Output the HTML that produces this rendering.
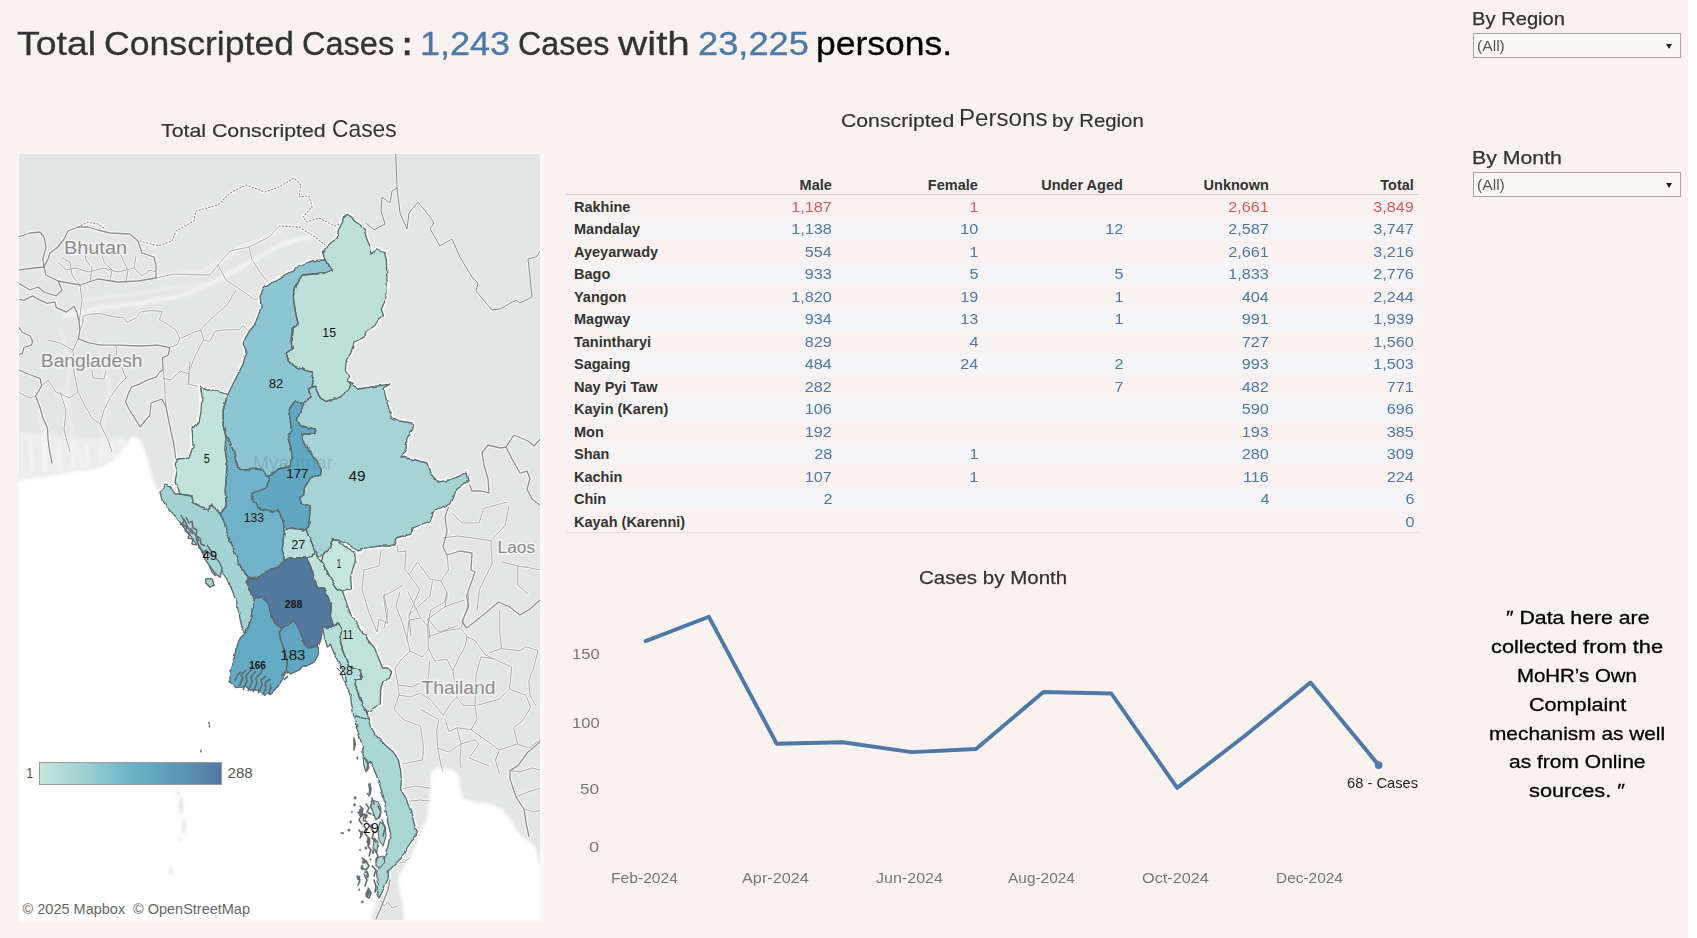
<!DOCTYPE html>
<html>
<head>
<meta charset="utf-8">
<title>Total Conscripted Cases</title>
<style>
html,body{margin:0;padding:0;}
body{width:1697px;height:938px;overflow:hidden;background:#ffffff;font-family:"Liberation Sans",sans-serif;position:relative;}
#bg{position:absolute;left:0;top:0;width:1688px;height:938px;background:#faf2f0;}
.t{position:absolute;white-space:nowrap;line-height:1;transform-origin:0 0;}
#map{position:absolute;left:18.5px;top:154px;width:521.5px;height:766.3px;background:#fff;overflow:hidden;box-shadow:2px 0 2px 1.5px rgba(253,250,250,.75),0 0 2px 1.5px rgba(253,250,250,.6);}
/* table */
.hl{position:absolute;left:566px;width:853px;height:1px;background:#cfcaca;}
.band{position:absolute;left:566px;width:853px;height:22.5px;background:linear-gradient(90deg,#f8f3f2 0,#f5f4f6 8%,#f5f4f6 100%);}
.rl{position:absolute;left:574px;font-size:14.5px;font-weight:bold;color:#333;white-space:nowrap;line-height:1;transform-origin:0 0;}
.ch{position:absolute;font-size:14.5px;font-weight:bold;color:#333;white-space:nowrap;line-height:1;text-align:right;transform-origin:100% 0;}
.n{position:absolute;font-size:15.5px;color:#4e79a7;white-space:nowrap;line-height:1;text-align:right;transform-origin:100% 0;transform:scaleX(1.045);}
.r{color:#e15759;}
/* filters */
.dd{position:absolute;left:1473px;width:206px;height:23px;border:1px solid #a9a4a2;background:#fbf8f6;}
.dd span{position:absolute;left:3px;top:4.5px;font-size:14.5px;color:#555;line-height:1;transform:scaleX(1.08);transform-origin:0 0;}
.dd i{position:absolute;right:8px;top:10px;width:0;height:0;border-left:3.5px solid transparent;border-right:3.5px solid transparent;border-top:5px solid #222;}
/* chart */
.ax{position:absolute;font-size:15px;color:#777;white-space:nowrap;line-height:1;}
</style>
</head>
<body>
<div id="bg"></div>
<div style="position:absolute;left:608px;top:596px;width:815px;height:305px;background:#f9f3f0"></div>

<div class="t" style="left:16.50px;top:26.54px;font-size:33.50px;color:#333;transform:scaleX(1.1176);-webkit-text-stroke:0.3px #333;">Total</div>
<div class="t" style="left:104.30px;top:26.54px;font-size:33.50px;color:#333;transform:scaleX(1.0637);-webkit-text-stroke:0.3px #333;">Conscripted</div>
<div class="t" style="left:302.30px;top:26.54px;font-size:33.50px;color:#333;transform:scaleX(0.9708);-webkit-text-stroke:0.3px #333;">Cases</div>
<div class="t" style="left:402.00px;top:26.54px;font-size:33.50px;color:#333;font-weight:bold;transform:scaleX(0.9267);-webkit-text-stroke:0.4px #333;">:</div>
<div class="t" style="left:420.00px;top:26.54px;font-size:33.50px;color:#4e79a7;transform:scaleX(1.0737);-webkit-text-stroke:0.35px #4e79a7;">1,243</div>
<div class="t" style="left:518.30px;top:26.54px;font-size:33.50px;color:#333;transform:scaleX(0.9634);-webkit-text-stroke:0.3px #333;">Cases</div>
<div class="t" style="left:617.50px;top:26.54px;font-size:33.50px;color:#333;transform:scaleX(1.2057);-webkit-text-stroke:0.3px #333;">with</div>
<div class="t" style="left:697.60px;top:26.54px;font-size:33.50px;color:#4e79a7;transform:scaleX(1.0828);-webkit-text-stroke:0.35px #4e79a7;">23,225</div>
<div class="t" style="left:816.10px;top:26.54px;font-size:33.50px;color:#000;transform:scaleX(1.0586);-webkit-text-stroke:0.3px #000;">persons.</div>
<div class="t" style="left:161.30px;top:120.92px;font-size:19.00px;color:#333;transform:scaleX(1.1221);-webkit-text-stroke:0.2px #333;">Total Conscripted</div>
<div class="t" style="left:331.70px;top:116.68px;font-size:24.00px;color:#333;transform:scaleX(0.9509);">Cases</div>
<div class="t" style="left:840.50px;top:110.92px;font-size:19.00px;color:#333;transform:scaleX(1.1168);-webkit-text-stroke:0.2px #333;">Conscripted</div>
<div class="t" style="left:959.10px;top:107.11px;font-size:23.50px;color:#333;transform:scaleX(1.0261);">Persons</div>
<div class="t" style="left:1052.30px;top:110.92px;font-size:19.00px;color:#333;transform:scaleX(1.0725);-webkit-text-stroke:0.2px #333;">by Region</div>
<div class="t" style="left:1471.90px;top:10.32px;font-size:18.40px;color:#333;transform:scaleX(1.0964);-webkit-text-stroke:0.25px #333;">By Region</div>
<div class="t" style="left:1471.90px;top:149.32px;font-size:18.40px;color:#333;transform:scaleX(1.1577);-webkit-text-stroke:0.25px #333;">By Month</div>


<div id="map">
<svg style="position:absolute;left:-0.5px;top:-1px" width="524" height="768" viewBox="18 153 524 768">
<defs><filter id="bl" x="-5%" y="-5%" width="110%" height="110%"><feGaussianBlur stdDeviation="1.6"/></filter><filter id="bl2"><feGaussianBlur stdDeviation="0.7"/></filter><filter id="jag" x="-2%" y="-2%" width="104%" height="104%"><feTurbulence type="fractalNoise" baseFrequency="0.12" numOctaves="2" seed="4" result="n"/><feDisplacementMap in="SourceGraphic" in2="n" scale="3.2" xChannelSelector="R" yChannelSelector="G"/></filter></defs>
<rect x="18" y="153" width="523" height="767" fill="#e4e6e5"/>
<g filter="url(#bl)"><polygon points="10.0,480.0 18.0,480.0 35.7,477.8 53.4,475.4 71.0,471.9 88.7,469.5 100.5,467.2 112.3,461.3 121.7,451.9 126.4,444.8 131.1,437.7 135.9,436.5 140.6,440.0 144.1,449.5 147.6,458.9 150.0,470.7 153.5,482.5 159.4,491.9 165.0,492.0 185.0,510.0 215.0,545.0 240.0,600.0 250.0,650.0 260.0,680.0 290.0,665.0 320.0,640.0 335.0,640.0 350.0,690.0 360.0,730.0 380.0,780.0 395.0,830.0 385.0,880.0 380.0,897.0 376.0,905.0 373.0,912.0 370.0,925.0 10.0,925.0" fill="#fff"/><polygon points="430.4,774.0 436.0,768.0 442.5,768.0 452.0,770.0 458.5,774.0 460.0,786.0 462.5,798.0 474.5,802.0 490.6,804.0 502.6,810.0 510.6,820.0 518.6,834.0 530.7,842.0 536.7,850.0 538.7,864.0 546.0,864.0 546.0,925.0 404.0,925.0 402.8,902.8 399.8,893.6 398.2,878.0 404.4,866.0 410.5,856.7 416.6,844.5 419.7,830.6 427.4,820.0 429.0,801.0 431.0,786.0" fill="#fff"/></g>
<g filter="url(#bl)" fill="none" stroke="#fff" stroke-linecap="round" stroke-linejoin="round">
<polyline points="66,316 100,308 140,303 180,296 215,282 250,262 285,243 312,236" stroke-width="4" stroke-opacity="0.55"/>
<polyline points="156,277 200,272 222,262 236,250 262,240 285,228" stroke-width="3" stroke-opacity="0.5"/>
<polyline points="80,300 120,296 160,290 200,284" stroke-width="2.5" stroke-opacity="0.35"/>
<polyline points="60,330 70,360 66,400 74,440 84,470" stroke-width="3" stroke-opacity="0.3"/>
<polyline points="100,350 110,390 100,430 108,462" stroke-width="3" stroke-opacity="0.3"/>
<polyline points="40,410 46,440 44,470" stroke-width="4" stroke-opacity="0.35"/>
<polyline points="120,440 130,455 134,470" stroke-width="3" stroke-opacity="0.4"/>
</g>
<g filter="url(#bl)"><polygon points="18,432 60,436 100,438 124,436 128,446 118,458 100,466 60,474 18,480" fill="#fff" opacity="0.3"/>
<polyline points="30,440 32,470" fill="none" stroke="#fff" stroke-width="2.2" stroke-opacity="0.45"/>
<polyline points="44,436 45,474" fill="none" stroke="#fff" stroke-width="2.2" stroke-opacity="0.45"/>
<polyline points="58,440 60,472" fill="none" stroke="#fff" stroke-width="2.2" stroke-opacity="0.45"/>
<polyline points="72,442 74,470" fill="none" stroke="#fff" stroke-width="2.2" stroke-opacity="0.45"/>
<polyline points="86,444 88,468" fill="none" stroke="#fff" stroke-width="2.2" stroke-opacity="0.45"/>
<polyline points="100,446 102,464" fill="none" stroke="#fff" stroke-width="2.2" stroke-opacity="0.45"/>
<polyline points="112,444 113,458" fill="none" stroke="#fff" stroke-width="2.2" stroke-opacity="0.45"/>
</g>
<g filter="url(#bl)" fill="#e2e2e2" opacity="0.8">
<ellipse cx="178" cy="793" rx="1.6" ry="4"/>
<ellipse cx="181" cy="806" rx="2.2" ry="9"/>
<ellipse cx="184" cy="826" rx="2" ry="8"/>
<ellipse cx="180" cy="840" rx="1.5" ry="3"/>
<ellipse cx="171" cy="871" rx="2.2" ry="4"/>
<ellipse cx="187" cy="771" rx="1" ry="2"/>
</g>
<g stroke-linejoin="round" stroke-linecap="round">
<polyline points="50.0,253.0 48.0,259.0 44.0,267.0 46.0,275.0 58.0,281.0 80.0,285.0 98.0,279.0 118.0,282.0 138.0,281.0 156.0,278.0 156.0,265.0 154.0,257.0 142.0,253.0 138.0,241.0 130.0,234.0 110.0,233.0 98.0,230.0 88.0,227.0 78.0,227.0 68.0,231.0 64.0,239.0 58.0,247.0 50.0,253.0" fill="none" stroke="#fff" stroke-opacity="0.7" stroke-width="3.4"/>
<polyline points="18.0,237.0 30.0,233.0 40.0,232.0 44.0,237.0 46.0,247.0 43.0,259.0 44.0,267.0" fill="none" stroke="#fff" stroke-opacity="0.7" stroke-width="3.4"/>
<polyline points="44.0,267.0 34.0,268.0 18.0,270.0" fill="none" stroke="#fff" stroke-opacity="0.7" stroke-width="3.4"/>
<polyline points="18.0,299.0 23.9,300.3 32.7,295.9 37.2,298.8 47.5,303.3 54.8,301.8 56.3,307.7 66.6,312.1 74.0,306.2 76.9,312.1 79.1,322.4 79.9,329.8 78.4,338.6 87.2,342.3 100.5,345.2 118.2,345.2 140.3,346.0 158.0,345.2 169.7,347.5 168.3,354.8 162.4,357.8 163.1,369.6 159.4,372.5 156.5,376.9 147.6,379.9 138.8,384.3 131.4,387.2 128.5,393.1 125.5,402.0 130.0,410.8 134.0,417.0 140.0,427.0 150.0,415.0 151.0,403.0 162.0,399.0 166.0,407.0 170.0,427.0 174.0,445.0 176.0,461.0" fill="none" stroke="#fff" stroke-opacity="0.7" stroke-width="3.4"/>
<polyline points="18.0,369.6 28.3,374.0 40.1,378.4 41.6,385.8 35.7,396.0 40.1,407.9 43.0,418.2 47.5,428.0 48.0,440.0 50.0,453.0 52.0,463.0" fill="none" stroke="#fff" stroke-opacity="0.7" stroke-width="3.4"/>
<polyline points="18.0,354.8 22.4,353.3 23.9,347.5 31.3,345.2 32.7,341.6 30.0,336.0 22.0,332.0 18.0,326.0" fill="none" stroke="#fff" stroke-opacity="0.7" stroke-width="3.4"/>
<polyline points="18.0,283.0 30.0,290.0 38.0,287.0 44.0,292.0 56.0,296.0 62.0,290.0 58.0,281.0" fill="none" stroke="#fff" stroke-opacity="0.7" stroke-width="3.4"/>
<polyline points="482.0,453.0 488.0,445.0 500.0,448.0 506.0,447.0 514.0,435.0 528.0,441.0 534.0,446.0 541.0,438.0" fill="none" stroke="#fff" stroke-opacity="0.7" stroke-width="3.4"/>
<polyline points="468.0,481.0 472.0,491.0 482.0,491.0 489.0,493.0 488.0,479.0 484.0,465.0 482.0,453.0" fill="none" stroke="#fff" stroke-opacity="0.7" stroke-width="3.4"/>
<polyline points="506.0,447.0 512.0,459.0 520.0,473.0 527.0,471.0 530.0,479.0 527.0,489.0 532.0,499.0 541.0,506.0" fill="none" stroke="#fff" stroke-opacity="0.7" stroke-width="3.4"/>
<polyline points="449.5,504.0 445.0,517.0 447.0,532.0 443.0,547.0 447.0,555.0 460.0,551.0 472.0,553.0 471.0,570.0 475.0,572.0 466.6,596.0 468.7,606.6 462.0,621.5 466.6,628.0 475.0,621.5 488.0,611.0 498.5,602.0 509.0,606.6 520.0,615.0 530.5,608.7 541.0,599.0" fill="none" stroke="#fff" stroke-opacity="0.7" stroke-width="3.4"/>
<polyline points="541.0,741.0 528.0,752.0 518.0,765.6 510.0,770.6 510.0,779.0 516.0,797.0 524.0,809.0 526.0,823.0 529.0,836.6" fill="none" stroke="#fff" stroke-opacity="0.7" stroke-width="3.4"/>
<polyline points="388.3,871.0 390.0,880.0 388.0,890.0 384.0,900.0 380.0,910.0 376.0,919.0" fill="none" stroke="#fff" stroke-opacity="0.7" stroke-width="3.4"/>
<polyline points="156.0,278.0 174.0,274.0 210.0,275.0 218.0,265.0 230.0,251.0 249.0,247.0 269.0,237.0 279.0,226.0" fill="none" stroke="#fff" stroke-opacity="0.55" stroke-width="3"/>
<polyline points="79.9,329.8 82.8,323.9 82.8,316.5 88.7,314.3 100.5,313.6 112.3,316.5 124.1,318.0 127.0,322.4 135.9,318.0 140.3,312.0 150.6,310.6 162.4,311.4 159.4,319.5 166.8,323.9 175.6,329.8 180.0,338.6 177.1,344.5 169.7,347.5" fill="none" stroke="#fff" stroke-opacity="0.55" stroke-width="3"/>
<polyline points="236.0,290.0 227.2,304.7 212.0,318.0 200.7,329.8 203.6,340.0 194.8,356.3 188.9,372.5 188.9,384.3 200.7,387.2" fill="none" stroke="#fff" stroke-opacity="0.55" stroke-width="3"/>
<polyline points="203.6,340.0 209.5,341.6 215.4,331.2 227.2,329.8 239.0,329.8 243.4,325.4 248.0,331.0" fill="none" stroke="#fff" stroke-opacity="0.55" stroke-width="3"/>
<polyline points="163.1,369.6 164.6,381.3 165.3,399.0 166.0,407.0" fill="none" stroke="#fff" stroke-opacity="0.55" stroke-width="3"/>
<polyline points="163.1,378.4 171.2,379.9 180.0,371.0 188.9,374.0" fill="none" stroke="#fff" stroke-opacity="0.55" stroke-width="3"/>
<polyline points="188.0,385.0 190.0,361.0" fill="none" stroke="#fff" stroke-opacity="0.55" stroke-width="3"/>
<polyline points="180.0,338.6 190.0,334.0 200.7,329.8" fill="none" stroke="#fff" stroke-opacity="0.55" stroke-width="3"/>
<polyline points="249.0,247.0 252.0,260.0 262.0,275.0 270.0,284.0" fill="none" stroke="#fff" stroke-opacity="0.55" stroke-width="3"/>
<polyline points="218.0,265.0 226.0,280.0 238.0,288.0 255.0,300.0 262.0,296.0" fill="none" stroke="#fff" stroke-opacity="0.55" stroke-width="3"/>
<polyline points="47.5,340.0 60.0,343.0 73.0,350.0 78.4,338.6" fill="none" stroke="#fff" stroke-opacity="0.55" stroke-width="3"/>
<polyline points="73.0,350.0 74.0,372.0 78.0,392.0 70.0,398.0 56.0,392.0 48.0,380.0 41.6,385.8" fill="none" stroke="#fff" stroke-opacity="0.55" stroke-width="3"/>
<polyline points="116.0,346.0 117.0,356.0 122.0,368.0 126.0,378.0 118.0,386.0 110.0,398.0 104.0,410.0 100.0,424.0" fill="none" stroke="#fff" stroke-opacity="0.55" stroke-width="3"/>
<polyline points="92.0,370.0 93.0,378.0 104.0,379.0 106.0,371.0" fill="none" stroke="#fff" stroke-opacity="0.55" stroke-width="3"/>
<polyline points="78.0,392.0 84.0,404.0 92.0,418.0 100.0,424.0 108.0,440.0 112.0,452.0" fill="none" stroke="#fff" stroke-opacity="0.55" stroke-width="3"/>
<polyline points="60.0,392.0 66.0,410.0 64.0,430.0 70.0,452.0" fill="none" stroke="#fff" stroke-opacity="0.55" stroke-width="3"/>
<polyline points="18.0,392.0 30.0,398.0 35.7,396.0" fill="none" stroke="#fff" stroke-opacity="0.55" stroke-width="3"/>
<polyline points="80.0,285.0 82.0,300.0 79.1,322.4" fill="none" stroke="#fff" stroke-opacity="0.55" stroke-width="3"/>
<polyline points="62.0,258.0 70.0,262.0 72.0,275.0 78.0,283.0" fill="none" stroke="#fff" stroke-opacity="0.55" stroke-width="3"/>
<polyline points="84.0,246.0 86.0,260.0 92.0,268.0 90.0,282.0" fill="none" stroke="#fff" stroke-opacity="0.55" stroke-width="3"/>
<polyline points="100.0,250.0 104.0,262.0 112.0,270.0 110.0,280.0" fill="none" stroke="#fff" stroke-opacity="0.55" stroke-width="3"/>
<polyline points="118.0,245.0 122.0,258.0 128.0,270.0 126.0,281.0" fill="none" stroke="#fff" stroke-opacity="0.55" stroke-width="3"/>
<polyline points="136.0,256.0 134.0,268.0 142.0,276.0 150.0,270.0 156.0,272.0" fill="none" stroke="#fff" stroke-opacity="0.55" stroke-width="3"/>
<polyline points="58.0,262.0 66.0,270.0 76.0,268.0 88.0,272.0 104.0,268.0 118.0,272.0 134.0,268.0" fill="none" stroke="#fff" stroke-opacity="0.55" stroke-width="3"/>
<polyline points="510.0,770.6 520.0,772.0 532.0,768.0 541.0,770.0" fill="none" stroke="#fff" stroke-opacity="0.55" stroke-width="3"/>
<polyline points="516.0,797.0 528.0,792.0 541.0,788.0" fill="none" stroke="#fff" stroke-opacity="0.55" stroke-width="3"/>
<polyline points="524.0,809.0 534.0,812.0 541.0,810.0" fill="none" stroke="#fff" stroke-opacity="0.55" stroke-width="3"/>
<polyline points="400.5,789.0 415.0,786.0 430.0,788.0" fill="none" stroke="#fff" stroke-opacity="0.55" stroke-width="3"/>
<polyline points="407.4,801.5 420.0,800.0 429.0,801.0" fill="none" stroke="#fff" stroke-opacity="0.55" stroke-width="3"/>
<polyline points="395.0,864.0 404.0,862.0 410.0,858.0" fill="none" stroke="#fff" stroke-opacity="0.55" stroke-width="3"/>
<polyline points="379.0,898.0 384.0,906.0 388.0,902.0 392.0,908.0 398.0,906.0" fill="none" stroke="#fff" stroke-opacity="0.55" stroke-width="3"/>
<polyline points="384.0,594.0 388.0,614.0 384.0,628.0" fill="none" stroke="#fff" stroke-opacity="0.55" stroke-width="3"/>
<polyline points="400.0,592.0 396.0,606.0 402.0,622.0 407.0,639.0 410.0,651.0 400.0,661.0 395.0,669.0 398.0,685.0 399.0,695.0 394.0,709.0 404.0,720.0 420.5,726.0 423.5,748.0 422.5,760.0 402.0,764.0" fill="none" stroke="#fff" stroke-opacity="0.55" stroke-width="3"/>
<polyline points="410.0,651.0 422.5,657.0 428.6,649.0 427.6,626.0 420.5,618.0 409.0,620.0 407.0,639.0" fill="none" stroke="#fff" stroke-opacity="0.55" stroke-width="3"/>
<polyline points="428.6,649.0 434.7,661.0 446.8,659.0 452.9,671.0 459.0,657.0 465.0,647.0 467.0,636.6 461.0,628.5 446.8,630.5 428.6,636.6" fill="none" stroke="#fff" stroke-opacity="0.55" stroke-width="3"/>
<polyline points="429.6,661.0 428.6,675.0 426.6,695.0 438.7,709.5 442.8,715.5 450.9,703.4 456.9,697.3 452.9,671.0" fill="none" stroke="#fff" stroke-opacity="0.55" stroke-width="3"/>
<polyline points="399.0,685.0 412.4,687.0 420.5,683.0" fill="none" stroke="#fff" stroke-opacity="0.55" stroke-width="3"/>
<polyline points="399.0,695.0 410.0,697.0 420.5,693.0 428.6,699.0" fill="none" stroke="#fff" stroke-opacity="0.55" stroke-width="3"/>
<polyline points="420.5,709.5 438.7,719.6 436.7,731.7 437.7,748.0 440.7,764.0 442.8,771.0" fill="none" stroke="#fff" stroke-opacity="0.55" stroke-width="3"/>
<polyline points="456.9,697.3 463.0,705.4 475.0,705.4 477.0,719.6 471.0,729.7 457.0,727.7 448.8,731.7 445.8,721.6" fill="none" stroke="#fff" stroke-opacity="0.55" stroke-width="3"/>
<polyline points="475.0,705.4 476.0,675.0 481.0,656.8 493.4,658.8 511.6,667.0 509.6,689.0 499.5,699.0 477.0,705.4" fill="none" stroke="#fff" stroke-opacity="0.55" stroke-width="3"/>
<polyline points="467.0,636.6 475.0,640.6 485.3,654.8 493.4,658.8" fill="none" stroke="#fff" stroke-opacity="0.55" stroke-width="3"/>
<polyline points="489.0,652.8 501.5,648.7 499.5,630.5 499.5,610.0" fill="none" stroke="#fff" stroke-opacity="0.55" stroke-width="3"/>
<polyline points="501.5,648.7 519.7,650.7 525.8,646.7 538.0,650.7 533.9,667.0 528.8,681.0 529.8,695.0 535.9,705.4" fill="none" stroke="#fff" stroke-opacity="0.55" stroke-width="3"/>
<polyline points="509.6,689.0 525.8,695.3 530.8,707.4 521.7,721.6 513.6,727.7 517.7,743.9 528.8,748.0 540.0,739.8" fill="none" stroke="#fff" stroke-opacity="0.55" stroke-width="3"/>
<polyline points="471.0,729.7 485.3,739.8 499.5,750.0 517.7,743.9" fill="none" stroke="#fff" stroke-opacity="0.55" stroke-width="3"/>
<polyline points="499.5,750.0 495.4,760.0 499.5,774.0" fill="none" stroke="#fff" stroke-opacity="0.55" stroke-width="3"/>
<polyline points="457.0,727.7 461.0,743.9 460.0,762.0 461.0,768.0" fill="none" stroke="#fff" stroke-opacity="0.55" stroke-width="3"/>
<polyline points="437.7,748.0 448.8,752.0 461.0,743.9" fill="none" stroke="#fff" stroke-opacity="0.55" stroke-width="3"/>
<polyline points="461.0,743.9 475.0,739.8 479.2,743.9 469.0,758.0 489.3,766.0" fill="none" stroke="#fff" stroke-opacity="0.55" stroke-width="3"/>
<polyline points="446.8,592.0 444.8,602.0 430.6,610.0 427.6,626.0" fill="none" stroke="#fff" stroke-opacity="0.55" stroke-width="3"/>
<polyline points="469.0,594.0 467.0,608.0 461.0,628.5" fill="none" stroke="#fff" stroke-opacity="0.55" stroke-width="3"/>
<polyline points="408.0,592.0 420.5,618.0" fill="none" stroke="#fff" stroke-opacity="0.55" stroke-width="3"/>
<polyline points="364.0,570.0 379.0,566.0 381.0,551.0" fill="none" stroke="#fff" stroke-opacity="0.55" stroke-width="3"/>
<polyline points="364.0,570.0 362.0,589.5 368.5,611.0 377.0,632.0 379.0,619.0 387.7,623.6 383.4,596.0 396.0,589.5 402.6,585.0" fill="none" stroke="#fff" stroke-opacity="0.55" stroke-width="3"/>
<polyline points="405.8,551.0 404.8,570.0 409.0,574.6 417.5,562.0 430.0,579.0 441.0,581.0 448.5,570.0 447.0,555.0" fill="none" stroke="#fff" stroke-opacity="0.55" stroke-width="3"/>
<polyline points="409.0,574.6 419.7,589.5 409.0,615.0 411.0,636.0" fill="none" stroke="#fff" stroke-opacity="0.55" stroke-width="3"/>
<polyline points="432.5,581.0 430.0,596.0 409.0,615.0" fill="none" stroke="#fff" stroke-opacity="0.55" stroke-width="3"/>
<polyline points="441.0,581.0 447.4,593.8 445.0,606.6 428.0,619.0 430.0,638.5" fill="none" stroke="#fff" stroke-opacity="0.55" stroke-width="3"/>
<polyline points="445.0,606.6 464.4,600.0" fill="none" stroke="#fff" stroke-opacity="0.55" stroke-width="3"/>
<polyline points="428.0,619.0 439.0,632.0 458.0,625.7" fill="none" stroke="#fff" stroke-opacity="0.55" stroke-width="3"/>
<polyline points="491.0,540.5 492.0,564.0 479.4,589.5 477.0,611.0" fill="none" stroke="#fff" stroke-opacity="0.55" stroke-width="3"/>
<polyline points="451.6,512.8 462.0,523.0 479.0,523.0 483.6,508.5 507.0,502.0" fill="none" stroke="#fff" stroke-opacity="0.55" stroke-width="3"/>
<polyline points="443.0,538.0 458.0,536.0 473.0,538.0 491.0,540.5 505.0,525.6 509.0,506.0" fill="none" stroke="#fff" stroke-opacity="0.55" stroke-width="3"/>
<polyline points="500.7,561.8 517.7,566.0 517.7,585.0 528.0,593.8" fill="none" stroke="#fff" stroke-opacity="0.55" stroke-width="3"/>
<polyline points="517.7,566.0 530.5,568.0 541.0,570.0" fill="none" stroke="#fff" stroke-opacity="0.55" stroke-width="3"/>
<polyline points="396.0,538.0 398.0,552.0 405.8,551.0" fill="none" stroke="#fff" stroke-opacity="0.55" stroke-width="3"/>
<polyline points="156.0,278.0 174.0,274.0 210.0,275.0 218.0,265.0 230.0,251.0 249.0,247.0 269.0,237.0 279.0,226.0" fill="none" stroke="#ababab" stroke-width="1.0"/>
<polyline points="79.9,329.8 82.8,323.9 82.8,316.5 88.7,314.3 100.5,313.6 112.3,316.5 124.1,318.0 127.0,322.4 135.9,318.0 140.3,312.0 150.6,310.6 162.4,311.4 159.4,319.5 166.8,323.9 175.6,329.8 180.0,338.6 177.1,344.5 169.7,347.5" fill="none" stroke="#ababab" stroke-width="1.0"/>
<polyline points="236.0,290.0 227.2,304.7 212.0,318.0 200.7,329.8 203.6,340.0 194.8,356.3 188.9,372.5 188.9,384.3 200.7,387.2" fill="none" stroke="#ababab" stroke-width="1.0"/>
<polyline points="203.6,340.0 209.5,341.6 215.4,331.2 227.2,329.8 239.0,329.8 243.4,325.4 248.0,331.0" fill="none" stroke="#ababab" stroke-width="1.0"/>
<polyline points="163.1,369.6 164.6,381.3 165.3,399.0 166.0,407.0" fill="none" stroke="#ababab" stroke-width="1.0"/>
<polyline points="163.1,378.4 171.2,379.9 180.0,371.0 188.9,374.0" fill="none" stroke="#ababab" stroke-width="1.0"/>
<polyline points="188.0,385.0 190.0,361.0" fill="none" stroke="#ababab" stroke-width="1.0"/>
<polyline points="180.0,338.6 190.0,334.0 200.7,329.8" fill="none" stroke="#ababab" stroke-width="1.0"/>
<polyline points="249.0,247.0 252.0,260.0 262.0,275.0 270.0,284.0" fill="none" stroke="#ababab" stroke-width="1.0"/>
<polyline points="218.0,265.0 226.0,280.0 238.0,288.0 255.0,300.0 262.0,296.0" fill="none" stroke="#ababab" stroke-width="1.0"/>
<polyline points="47.5,340.0 60.0,343.0 73.0,350.0 78.4,338.6" fill="none" stroke="#ababab" stroke-width="1.0"/>
<polyline points="73.0,350.0 74.0,372.0 78.0,392.0 70.0,398.0 56.0,392.0 48.0,380.0 41.6,385.8" fill="none" stroke="#ababab" stroke-width="1.0"/>
<polyline points="116.0,346.0 117.0,356.0 122.0,368.0 126.0,378.0 118.0,386.0 110.0,398.0 104.0,410.0 100.0,424.0" fill="none" stroke="#ababab" stroke-width="1.0"/>
<polyline points="92.0,370.0 93.0,378.0 104.0,379.0 106.0,371.0" fill="none" stroke="#ababab" stroke-width="1.0"/>
<polyline points="78.0,392.0 84.0,404.0 92.0,418.0 100.0,424.0 108.0,440.0 112.0,452.0" fill="none" stroke="#ababab" stroke-width="1.0"/>
<polyline points="60.0,392.0 66.0,410.0 64.0,430.0 70.0,452.0" fill="none" stroke="#ababab" stroke-width="1.0"/>
<polyline points="18.0,392.0 30.0,398.0 35.7,396.0" fill="none" stroke="#ababab" stroke-width="1.0"/>
<polyline points="80.0,285.0 82.0,300.0 79.1,322.4" fill="none" stroke="#ababab" stroke-width="1.0"/>
<polyline points="62.0,258.0 70.0,262.0 72.0,275.0 78.0,283.0" fill="none" stroke="#ababab" stroke-width="1.0"/>
<polyline points="84.0,246.0 86.0,260.0 92.0,268.0 90.0,282.0" fill="none" stroke="#ababab" stroke-width="1.0"/>
<polyline points="100.0,250.0 104.0,262.0 112.0,270.0 110.0,280.0" fill="none" stroke="#ababab" stroke-width="1.0"/>
<polyline points="118.0,245.0 122.0,258.0 128.0,270.0 126.0,281.0" fill="none" stroke="#ababab" stroke-width="1.0"/>
<polyline points="136.0,256.0 134.0,268.0 142.0,276.0 150.0,270.0 156.0,272.0" fill="none" stroke="#ababab" stroke-width="1.0"/>
<polyline points="58.0,262.0 66.0,270.0 76.0,268.0 88.0,272.0 104.0,268.0 118.0,272.0 134.0,268.0" fill="none" stroke="#ababab" stroke-width="1.0"/>
<polyline points="510.0,770.6 520.0,772.0 532.0,768.0 541.0,770.0" fill="none" stroke="#ababab" stroke-width="1.0"/>
<polyline points="516.0,797.0 528.0,792.0 541.0,788.0" fill="none" stroke="#ababab" stroke-width="1.0"/>
<polyline points="524.0,809.0 534.0,812.0 541.0,810.0" fill="none" stroke="#ababab" stroke-width="1.0"/>
<polyline points="400.5,789.0 415.0,786.0 430.0,788.0" fill="none" stroke="#ababab" stroke-width="1.0"/>
<polyline points="407.4,801.5 420.0,800.0 429.0,801.0" fill="none" stroke="#ababab" stroke-width="1.0"/>
<polyline points="395.0,864.0 404.0,862.0 410.0,858.0" fill="none" stroke="#ababab" stroke-width="1.0"/>
<polyline points="379.0,898.0 384.0,906.0 388.0,902.0 392.0,908.0 398.0,906.0" fill="none" stroke="#ababab" stroke-width="1.0"/>
<polyline points="384.0,594.0 388.0,614.0 384.0,628.0" fill="none" stroke="#ababab" stroke-width="1.0"/>
<polyline points="400.0,592.0 396.0,606.0 402.0,622.0 407.0,639.0 410.0,651.0 400.0,661.0 395.0,669.0 398.0,685.0 399.0,695.0 394.0,709.0 404.0,720.0 420.5,726.0 423.5,748.0 422.5,760.0 402.0,764.0" fill="none" stroke="#ababab" stroke-width="1.0"/>
<polyline points="410.0,651.0 422.5,657.0 428.6,649.0 427.6,626.0 420.5,618.0 409.0,620.0 407.0,639.0" fill="none" stroke="#ababab" stroke-width="1.0"/>
<polyline points="428.6,649.0 434.7,661.0 446.8,659.0 452.9,671.0 459.0,657.0 465.0,647.0 467.0,636.6 461.0,628.5 446.8,630.5 428.6,636.6" fill="none" stroke="#ababab" stroke-width="1.0"/>
<polyline points="429.6,661.0 428.6,675.0 426.6,695.0 438.7,709.5 442.8,715.5 450.9,703.4 456.9,697.3 452.9,671.0" fill="none" stroke="#ababab" stroke-width="1.0"/>
<polyline points="399.0,685.0 412.4,687.0 420.5,683.0" fill="none" stroke="#ababab" stroke-width="1.0"/>
<polyline points="399.0,695.0 410.0,697.0 420.5,693.0 428.6,699.0" fill="none" stroke="#ababab" stroke-width="1.0"/>
<polyline points="420.5,709.5 438.7,719.6 436.7,731.7 437.7,748.0 440.7,764.0 442.8,771.0" fill="none" stroke="#ababab" stroke-width="1.0"/>
<polyline points="456.9,697.3 463.0,705.4 475.0,705.4 477.0,719.6 471.0,729.7 457.0,727.7 448.8,731.7 445.8,721.6" fill="none" stroke="#ababab" stroke-width="1.0"/>
<polyline points="475.0,705.4 476.0,675.0 481.0,656.8 493.4,658.8 511.6,667.0 509.6,689.0 499.5,699.0 477.0,705.4" fill="none" stroke="#ababab" stroke-width="1.0"/>
<polyline points="467.0,636.6 475.0,640.6 485.3,654.8 493.4,658.8" fill="none" stroke="#ababab" stroke-width="1.0"/>
<polyline points="489.0,652.8 501.5,648.7 499.5,630.5 499.5,610.0" fill="none" stroke="#ababab" stroke-width="1.0"/>
<polyline points="501.5,648.7 519.7,650.7 525.8,646.7 538.0,650.7 533.9,667.0 528.8,681.0 529.8,695.0 535.9,705.4" fill="none" stroke="#ababab" stroke-width="1.0"/>
<polyline points="509.6,689.0 525.8,695.3 530.8,707.4 521.7,721.6 513.6,727.7 517.7,743.9 528.8,748.0 540.0,739.8" fill="none" stroke="#ababab" stroke-width="1.0"/>
<polyline points="471.0,729.7 485.3,739.8 499.5,750.0 517.7,743.9" fill="none" stroke="#ababab" stroke-width="1.0"/>
<polyline points="499.5,750.0 495.4,760.0 499.5,774.0" fill="none" stroke="#ababab" stroke-width="1.0"/>
<polyline points="457.0,727.7 461.0,743.9 460.0,762.0 461.0,768.0" fill="none" stroke="#ababab" stroke-width="1.0"/>
<polyline points="437.7,748.0 448.8,752.0 461.0,743.9" fill="none" stroke="#ababab" stroke-width="1.0"/>
<polyline points="461.0,743.9 475.0,739.8 479.2,743.9 469.0,758.0 489.3,766.0" fill="none" stroke="#ababab" stroke-width="1.0"/>
<polyline points="446.8,592.0 444.8,602.0 430.6,610.0 427.6,626.0" fill="none" stroke="#ababab" stroke-width="1.0"/>
<polyline points="469.0,594.0 467.0,608.0 461.0,628.5" fill="none" stroke="#ababab" stroke-width="1.0"/>
<polyline points="408.0,592.0 420.5,618.0" fill="none" stroke="#ababab" stroke-width="1.0"/>
<polyline points="364.0,570.0 379.0,566.0 381.0,551.0" fill="none" stroke="#ababab" stroke-width="1.0"/>
<polyline points="364.0,570.0 362.0,589.5 368.5,611.0 377.0,632.0 379.0,619.0 387.7,623.6 383.4,596.0 396.0,589.5 402.6,585.0" fill="none" stroke="#ababab" stroke-width="1.0"/>
<polyline points="405.8,551.0 404.8,570.0 409.0,574.6 417.5,562.0 430.0,579.0 441.0,581.0 448.5,570.0 447.0,555.0" fill="none" stroke="#ababab" stroke-width="1.0"/>
<polyline points="409.0,574.6 419.7,589.5 409.0,615.0 411.0,636.0" fill="none" stroke="#ababab" stroke-width="1.0"/>
<polyline points="432.5,581.0 430.0,596.0 409.0,615.0" fill="none" stroke="#ababab" stroke-width="1.0"/>
<polyline points="441.0,581.0 447.4,593.8 445.0,606.6 428.0,619.0 430.0,638.5" fill="none" stroke="#ababab" stroke-width="1.0"/>
<polyline points="445.0,606.6 464.4,600.0" fill="none" stroke="#ababab" stroke-width="1.0"/>
<polyline points="428.0,619.0 439.0,632.0 458.0,625.7" fill="none" stroke="#ababab" stroke-width="1.0"/>
<polyline points="491.0,540.5 492.0,564.0 479.4,589.5 477.0,611.0" fill="none" stroke="#ababab" stroke-width="1.0"/>
<polyline points="451.6,512.8 462.0,523.0 479.0,523.0 483.6,508.5 507.0,502.0" fill="none" stroke="#ababab" stroke-width="1.0"/>
<polyline points="443.0,538.0 458.0,536.0 473.0,538.0 491.0,540.5 505.0,525.6 509.0,506.0" fill="none" stroke="#ababab" stroke-width="1.0"/>
<polyline points="500.7,561.8 517.7,566.0 517.7,585.0 528.0,593.8" fill="none" stroke="#ababab" stroke-width="1.0"/>
<polyline points="517.7,566.0 530.5,568.0 541.0,570.0" fill="none" stroke="#ababab" stroke-width="1.0"/>
<polyline points="396.0,538.0 398.0,552.0 405.8,551.0" fill="none" stroke="#ababab" stroke-width="1.0"/>
<polyline points="366.0,223.0 374.0,230.0 385.0,224.0 381.0,211.0 382.0,197.0 390.0,203.0 392.0,191.0 397.0,188.0" fill="none" stroke="#fff" stroke-opacity="0.55" stroke-width="3"/>
<polyline points="395.7,153.0 397.0,188.0 400.0,213.0 407.0,229.0 409.0,213.0 418.0,202.0 430.0,217.0 434.0,223.0 430.0,229.0 440.0,246.0 452.0,239.0 460.0,257.0 472.0,277.0 478.0,283.0 476.0,291.0 486.0,303.0 492.0,310.0 500.0,309.0 516.0,300.0 520.0,303.0 532.0,297.0 530.0,277.0 528.0,259.0 536.0,257.0 541.0,250.0" fill="none" stroke="#fff" stroke-opacity="0.55" stroke-width="3"/>
<polyline points="366.0,223.0 374.0,230.0 385.0,224.0 381.0,211.0 382.0,197.0 390.0,203.0 392.0,191.0 397.0,188.0" fill="none" stroke="#858b8d" stroke-width="1.0"/>
<polyline points="395.7,153.0 397.0,188.0 400.0,213.0 407.0,229.0 409.0,213.0 418.0,202.0 430.0,217.0 434.0,223.0 430.0,229.0 440.0,246.0 452.0,239.0 460.0,257.0 472.0,277.0 478.0,283.0 476.0,291.0 486.0,303.0 492.0,310.0 500.0,309.0 516.0,300.0 520.0,303.0 532.0,297.0 530.0,277.0 528.0,259.0 536.0,257.0 541.0,250.0" fill="none" stroke="#858b8d" stroke-width="1.0"/>
<polyline points="140.0,241.0 158.0,246.0 172.0,241.0 176.0,231.0 194.0,221.0 196.0,211.0 218.0,205.0 230.0,193.0 246.0,185.0 265.0,192.0 279.0,187.0 294.0,178.0 301.0,185.0 299.0,197.0 309.0,196.0 312.0,207.0 303.0,217.0 307.0,222.0 319.0,218.0 335.0,226.0 343.0,222.0" fill="none" stroke="#fff" stroke-opacity="0.7" stroke-width="3.4"/>
<polyline points="140.0,241.0 158.0,246.0 172.0,241.0 176.0,231.0 194.0,221.0 196.0,211.0 218.0,205.0 230.0,193.0 246.0,185.0 265.0,192.0 279.0,187.0 294.0,178.0 301.0,185.0 299.0,197.0 309.0,196.0 312.0,207.0 303.0,217.0 307.0,222.0 319.0,218.0 335.0,226.0 343.0,222.0" fill="none" stroke="#8a8a8a" stroke-width="1.1" stroke-dasharray="1.2 2.2"/>
<polyline points="78.0,227.0 88.0,222.0 98.0,224.0 104.0,228.0" fill="none" stroke="#fff" stroke-opacity="0.7" stroke-width="3.4"/>
<polyline points="78.0,227.0 88.0,222.0 98.0,224.0 104.0,228.0" fill="none" stroke="#8a8a8a" stroke-width="1.1" stroke-dasharray="1.2 2.2"/>
<polyline points="279.0,226.0 299.0,227.0 315.0,237.0 325.0,245.0" fill="none" stroke="#fff" stroke-opacity="0.7" stroke-width="3.4"/>
<polyline points="279.0,226.0 299.0,227.0 315.0,237.0 325.0,245.0" fill="none" stroke="#8a8a8a" stroke-width="1.1" stroke-dasharray="1.2 2.2"/>
<polyline points="50.0,253.0 48.0,259.0 44.0,267.0 46.0,275.0 58.0,281.0 80.0,285.0 98.0,279.0 118.0,282.0 138.0,281.0 156.0,278.0 156.0,265.0 154.0,257.0 142.0,253.0 138.0,241.0 130.0,234.0 110.0,233.0 98.0,230.0 88.0,227.0 78.0,227.0 68.0,231.0 64.0,239.0 58.0,247.0 50.0,253.0" fill="none" stroke="#8e8e8e" stroke-width="1.3"/>
<polyline points="18.0,237.0 30.0,233.0 40.0,232.0 44.0,237.0 46.0,247.0 43.0,259.0 44.0,267.0" fill="none" stroke="#8e8e8e" stroke-width="1.3"/>
<polyline points="44.0,267.0 34.0,268.0 18.0,270.0" fill="none" stroke="#8e8e8e" stroke-width="1.3"/>
<polyline points="18.0,299.0 23.9,300.3 32.7,295.9 37.2,298.8 47.5,303.3 54.8,301.8 56.3,307.7 66.6,312.1 74.0,306.2 76.9,312.1 79.1,322.4 79.9,329.8 78.4,338.6 87.2,342.3 100.5,345.2 118.2,345.2 140.3,346.0 158.0,345.2 169.7,347.5 168.3,354.8 162.4,357.8 163.1,369.6 159.4,372.5 156.5,376.9 147.6,379.9 138.8,384.3 131.4,387.2 128.5,393.1 125.5,402.0 130.0,410.8 134.0,417.0 140.0,427.0 150.0,415.0 151.0,403.0 162.0,399.0 166.0,407.0 170.0,427.0 174.0,445.0 176.0,461.0" fill="none" stroke="#8e8e8e" stroke-width="1.3"/>
<polyline points="18.0,369.6 28.3,374.0 40.1,378.4 41.6,385.8 35.7,396.0 40.1,407.9 43.0,418.2 47.5,428.0 48.0,440.0 50.0,453.0 52.0,463.0" fill="none" stroke="#8e8e8e" stroke-width="1.3"/>
<polyline points="18.0,354.8 22.4,353.3 23.9,347.5 31.3,345.2 32.7,341.6 30.0,336.0 22.0,332.0 18.0,326.0" fill="none" stroke="#8e8e8e" stroke-width="1.3"/>
<polyline points="18.0,283.0 30.0,290.0 38.0,287.0 44.0,292.0 56.0,296.0 62.0,290.0 58.0,281.0" fill="none" stroke="#8e8e8e" stroke-width="1.3"/>
<polyline points="482.0,453.0 488.0,445.0 500.0,448.0 506.0,447.0 514.0,435.0 528.0,441.0 534.0,446.0 541.0,438.0" fill="none" stroke="#8e8e8e" stroke-width="1.3"/>
<polyline points="468.0,481.0 472.0,491.0 482.0,491.0 489.0,493.0 488.0,479.0 484.0,465.0 482.0,453.0" fill="none" stroke="#8e8e8e" stroke-width="1.3"/>
<polyline points="506.0,447.0 512.0,459.0 520.0,473.0 527.0,471.0 530.0,479.0 527.0,489.0 532.0,499.0 541.0,506.0" fill="none" stroke="#8e8e8e" stroke-width="1.3"/>
<polyline points="449.5,504.0 445.0,517.0 447.0,532.0 443.0,547.0 447.0,555.0 460.0,551.0 472.0,553.0 471.0,570.0 475.0,572.0 466.6,596.0 468.7,606.6 462.0,621.5 466.6,628.0 475.0,621.5 488.0,611.0 498.5,602.0 509.0,606.6 520.0,615.0 530.5,608.7 541.0,599.0" fill="none" stroke="#8e8e8e" stroke-width="1.3"/>
<polyline points="541.0,741.0 528.0,752.0 518.0,765.6 510.0,770.6 510.0,779.0 516.0,797.0 524.0,809.0 526.0,823.0 529.0,836.6" fill="none" stroke="#8e8e8e" stroke-width="1.3"/>
<polyline points="388.3,871.0 390.0,880.0 388.0,890.0 384.0,900.0 380.0,910.0 376.0,919.0" fill="none" stroke="#8e8e8e" stroke-width="1.3"/>
</g>
<g stroke-linejoin="round" filter="url(#jag)">
<g filter="url(#bl2)">
<polygon points="347.4,214.4 351.4,217.0 354.4,221.0 360.4,225.0 364.4,230.0 366.4,238.0 370.4,247.0 372.4,254.0 376.4,250.0 384.4,252.5 386.4,260.0 386.9,280.0 387.5,288.0 385.4,300.0 381.4,309.0 383.4,316.0 378.4,320.0 374.4,326.0 366.4,331.0 364.4,337.0 354.4,342.0 350.4,354.0 346.4,360.0 345.4,370.0 349.4,376.0 348.4,382.0 350.5,382.0 347.5,391.0 340.5,397.0 326.4,401.7 320.4,398.0 314.4,386.0 312.0,387.0 313.3,380.0 311.3,372.0 304.3,370.0 294.2,366.0 288.2,360.0 286.2,353.0 292.2,349.0 291.2,340.0 292.2,328.0 298.2,324.0 296.2,316.0 294.2,304.0 293.2,296.0 296.2,287.0 299.2,280.0 302.3,275.0 324.3,273.0 331.3,270.0 325.3,260.0 322.3,253.0 328.3,245.0 337.3,238.0 338.3,230.0 342.7,222.0 343.3,217.0" fill="none" stroke="#fff" stroke-opacity="0.85" stroke-width="4.6"/>
<polygon points="325.3,260.0 314.3,260.5 308.3,262.0 298.2,266.0 288.2,273.0 276.2,280.0 264.2,288.0 260.1,296.0 261.1,308.0 258.1,316.0 255.1,324.0 246.1,336.0 243.1,344.0 247.1,352.0 243.1,364.0 238.1,374.0 233.0,384.0 227.2,396.0 223.2,410.0 223.2,426.0 225.8,436.0 230.2,442.0 234.2,454.0 238.2,468.0 242.2,470.0 262.3,469.0 266.3,476.0 270.3,476.0 278.3,469.0 290.3,466.0 292.3,458.0 291.3,450.0 288.3,439.0 291.3,430.0 290.3,420.0 288.3,410.0 294.4,402.0 304.4,404.0 310.4,396.0 308.4,389.0 312.0,387.0 313.3,380.0 311.3,372.0 304.3,370.0 294.2,366.0 288.2,360.0 286.2,353.0 292.2,349.0 291.2,340.0 292.2,328.0 298.2,324.0 296.2,316.0 294.2,304.0 293.2,296.0 296.2,287.0 299.2,280.0 302.3,275.0 324.3,273.0 331.3,270.0" fill="none" stroke="#fff" stroke-opacity="0.85" stroke-width="4.6"/>
<polygon points="312.0,387.0 314.4,386.0 320.4,398.0 326.4,401.7 340.5,397.0 347.5,391.0 350.5,382.0 358.5,389.0 370.5,387.0 384.6,385.0 390.0,384.0 384.0,388.0 386.0,399.0 391.0,417.0 400.0,421.0 412.0,423.0 413.0,429.0 407.0,437.0 406.0,449.0 401.0,457.0 416.0,460.0 427.0,463.0 430.0,473.0 438.0,482.0 450.0,480.0 466.0,473.0 468.0,481.0 456.0,490.0 449.5,504.0 434.6,510.7 430.0,521.0 413.0,528.0 411.0,534.0 396.0,538.0 394.0,546.0 381.0,546.0 364.0,548.0 358.5,551.0 350.5,546.0 338.5,540.0 332.4,540.0 329.4,548.0 323.4,554.0 318.0,558.0 314.4,550.0 312.4,544.0 308.4,536.0 306.4,530.0 308.4,528.0 309.4,518.0 310.4,506.0 301.4,503.0 299.4,498.0 303.4,495.0 304.4,488.0 310.4,478.0 320.4,474.0 321.4,470.0 316.4,460.0 308.4,450.0 303.4,440.0 302.4,434.0 314.4,434.0 316.4,429.0 300.4,426.0 297.4,420.0 299.4,413.0 304.4,404.0 310.4,396.0 308.4,389.0" fill="none" stroke="#fff" stroke-opacity="0.85" stroke-width="4.6"/>
<polygon points="200.1,386.0 204.1,390.0 216.2,390.0 227.2,395.0 223.2,410.0 223.2,426.0 225.8,436.0 225.2,450.0 227.2,464.0 226.2,478.0 225.2,490.0 226.2,506.0 220.2,514.0 216.2,510.0 212.1,504.0 208.1,510.0 201.1,507.0 193.1,502.0 192.1,496.0 180.1,494.0 175.1,482.0 177.1,470.0 175.1,464.0 178.1,459.0 189.1,458.0 193.1,446.0 192.1,428.0 199.1,423.0 201.1,410.0 202.1,396.0" fill="none" stroke="#fff" stroke-opacity="0.85" stroke-width="4.6"/>
<polygon points="165.0,484.0 170.0,486.0 175.0,494.0 180.1,494.0 192.1,496.0 193.1,502.0 201.1,507.0 208.1,510.0 212.1,504.0 216.2,510.0 220.2,514.0 224.2,522.0 226.2,530.0 230.2,540.0 236.2,556.0 242.2,570.0 248.2,577.0 247.2,583.0 249.2,590.0 254.2,598.0 252.3,610.0 250.2,622.0 246.2,632.0 244.2,633.0 241.2,624.0 238.2,610.0 236.2,600.0 231.2,588.0 226.2,578.0 222.0,572.0 216.0,562.0 206.0,556.0 198.0,546.0 190.0,536.0 180.0,522.0 170.0,510.0 162.0,500.0 160.0,492.0" fill="none" stroke="#fff" stroke-opacity="0.85" stroke-width="4.6"/>
<polygon points="225.8,436.0 230.2,442.0 234.2,454.0 238.2,468.0 242.2,470.0 262.3,469.0 266.3,476.0 270.3,476.0 266.3,488.0 253.2,493.0 252.3,500.0 258.3,508.0 270.3,511.0 278.3,510.0 283.3,522.0 284.3,530.0 283.3,540.0 282.3,550.0 284.3,560.0 278.3,567.0 268.3,570.0 258.3,579.0 248.2,577.0 242.2,570.0 236.2,556.0 230.2,540.0 226.2,530.0 224.2,522.0 220.2,514.0 226.2,506.0 225.2,490.0 226.2,478.0 227.2,464.0 225.2,450.0" fill="none" stroke="#fff" stroke-opacity="0.85" stroke-width="4.6"/>
<polygon points="294.4,402.0 304.4,404.0 299.4,413.0 297.4,420.0 300.4,426.0 316.4,429.0 314.4,434.0 302.4,434.0 303.4,440.0 308.4,450.0 316.4,460.0 321.4,470.0 320.4,474.0 310.4,478.0 304.4,488.0 303.4,495.0 299.4,498.0 301.4,503.0 310.4,506.0 309.4,518.0 308.4,528.0 306.4,530.0 290.3,528.0 284.3,530.0 283.3,522.0 278.3,510.0 270.3,511.0 258.3,508.0 252.3,500.0 253.2,493.0 266.3,488.0 270.3,476.0 278.3,469.0 290.3,466.0 292.3,458.0 291.3,450.0 288.3,439.0 291.3,430.0 290.3,420.0 288.3,410.0" fill="none" stroke="#fff" stroke-opacity="0.85" stroke-width="4.6"/>
<polygon points="284.3,530.0 290.3,528.0 306.4,530.0 308.4,536.0 312.4,544.0 314.4,550.0 312.4,556.0 306.4,558.0 290.3,558.0 284.3,560.0 282.3,550.0 283.3,540.0" fill="none" stroke="#fff" stroke-opacity="0.85" stroke-width="4.6"/>
<polygon points="332.4,539.0 338.5,541.0 345.5,547.0 354.5,552.0 355.5,560.0 352.5,570.0 350.5,578.0 351.5,588.0 342.5,591.0 336.4,588.0 330.4,578.0 326.4,570.0 321.4,562.0 323.4,554.0 329.4,548.0 331.4,542.0" fill="none" stroke="#fff" stroke-opacity="0.85" stroke-width="4.6"/>
<polygon points="314.4,550.0 318.0,558.0 321.4,562.0 326.4,570.0 330.4,578.0 336.4,588.0 342.5,591.0 345.5,600.0 350.5,614.0 358.5,626.0 366.5,638.0 374.5,648.0 378.5,658.0 382.6,668.0 388.6,668.0 391.6,672.0 389.6,678.0 382.6,682.0 380.6,690.0 380.3,704.0 375.3,707.0 370.3,710.0 367.3,712.0 362.3,706.0 358.5,694.0 355.5,686.0 354.5,680.0 362.5,678.0 359.5,670.0 352.5,668.0 348.5,666.0 345.5,658.0 342.5,650.0 340.5,642.0 341.5,630.0 338.5,623.0 333.4,626.0 330.4,616.0 331.4,605.0 327.4,596.0 324.4,588.0 317.4,588.0 314.4,578.0 310.4,566.0 306.4,558.0 312.4,556.0" fill="none" stroke="#fff" stroke-opacity="0.85" stroke-width="4.6"/>
<polygon points="322.4,626.0 326.4,628.0 333.4,626.0 338.5,623.0 341.5,630.0 340.5,642.0 342.5,650.0 345.5,658.0 348.5,666.0 352.5,668.0 359.5,670.0 362.5,678.0 354.5,680.0 355.5,686.0 358.5,694.0 362.3,706.0 367.3,712.0 368.3,720.0 356.3,716.0 354.2,718.0 352.5,708.0 351.5,704.0 350.5,696.0 347.5,688.0 345.5,678.0 342.5,670.0 338.5,662.0 334.4,654.0 330.4,644.0 327.4,646.0 324.4,638.0" fill="none" stroke="#fff" stroke-opacity="0.85" stroke-width="4.6"/>
<polygon points="356.3,716.0 368.3,720.0 370.3,726.0 376.3,736.0 386.3,746.0 393.3,752.0 398.4,760.0 400.4,770.0 401.4,780.0 400.5,789.0 407.4,801.5 412.0,815.0 414.3,824.5 417.4,832.0 412.8,839.0 407.4,847.5 401.3,858.0 395.2,864.0 388.3,871.0 388.3,878.0 383.6,889.0 379.0,898.0 376.7,894.0 377.5,886.0 376.7,872.0 379.8,867.5 383.6,861.0 386.0,853.7 388.3,844.5 390.6,833.7 388.3,824.5 386.7,815.0 385.2,806.0 383.6,797.0 381.3,790.0 378.3,780.0 374.3,770.0 370.3,762.0 366.3,766.0 363.3,756.0 362.3,746.0 359.3,736.0 356.3,726.0 354.2,718.0" fill="none" stroke="#fff" stroke-opacity="0.85" stroke-width="4.6"/>
<polygon points="254.2,598.0 262.3,597.0 268.3,604.0 271.3,614.0 274.3,623.0 282.3,629.0 279.3,632.0 280.3,638.0 284.3,650.0 287.3,662.0 286.3,670.0 283.3,678.0 278.3,686.0 270.3,694.0 264.3,695.0 258.3,690.0 250.2,690.0 244.2,685.0 236.2,688.0 230.2,682.0 230.2,670.0 234.2,658.0 236.2,648.0 240.2,638.0 246.2,632.0 250.2,622.0 252.3,610.0" fill="none" stroke="#fff" stroke-opacity="0.85" stroke-width="4.6"/>
<polygon points="294.3,620.0 300.4,632.0 304.4,644.0 308.4,648.0 318.4,646.0 318.4,654.0 314.4,662.0 306.4,666.0 302.4,666.0 299.4,670.0 290.3,674.0 286.3,670.0 287.3,662.0 284.3,650.0 280.3,638.0 279.3,632.0 282.3,629.0 288.3,625.0" fill="none" stroke="#fff" stroke-opacity="0.85" stroke-width="4.6"/>
<polygon points="248.2,577.0 258.3,579.0 268.3,570.0 278.3,567.0 284.3,560.0 290.3,558.0 306.4,558.0 310.4,566.0 314.4,578.0 317.4,588.0 324.4,588.0 327.4,596.0 331.4,605.0 330.4,616.0 333.4,626.0 326.4,628.0 322.4,626.0 321.4,638.0 318.4,646.0 308.4,648.0 304.4,644.0 300.4,632.0 294.3,620.0 288.3,625.0 282.3,629.0 274.3,623.0 271.3,614.0 268.3,604.0 262.3,597.0 254.2,598.0 249.2,590.0 247.2,583.0" fill="none" stroke="#fff" stroke-opacity="0.85" stroke-width="4.6"/>
</g>
<polygon points="347.4,214.4 351.4,217.0 354.4,221.0 360.4,225.0 364.4,230.0 366.4,238.0 370.4,247.0 372.4,254.0 376.4,250.0 384.4,252.5 386.4,260.0 386.9,280.0 387.5,288.0 385.4,300.0 381.4,309.0 383.4,316.0 378.4,320.0 374.4,326.0 366.4,331.0 364.4,337.0 354.4,342.0 350.4,354.0 346.4,360.0 345.4,370.0 349.4,376.0 348.4,382.0 350.5,382.0 347.5,391.0 340.5,397.0 326.4,401.7 320.4,398.0 314.4,386.0 312.0,387.0 313.3,380.0 311.3,372.0 304.3,370.0 294.2,366.0 288.2,360.0 286.2,353.0 292.2,349.0 291.2,340.0 292.2,328.0 298.2,324.0 296.2,316.0 294.2,304.0 293.2,296.0 296.2,287.0 299.2,280.0 302.3,275.0 324.3,273.0 331.3,270.0 325.3,260.0 322.3,253.0 328.3,245.0 337.3,238.0 338.3,230.0 342.7,222.0 343.3,217.0" fill="#bde0d9" stroke="#bde0d9" stroke-width="1"/>
<polygon points="325.3,260.0 314.3,260.5 308.3,262.0 298.2,266.0 288.2,273.0 276.2,280.0 264.2,288.0 260.1,296.0 261.1,308.0 258.1,316.0 255.1,324.0 246.1,336.0 243.1,344.0 247.1,352.0 243.1,364.0 238.1,374.0 233.0,384.0 227.2,396.0 223.2,410.0 223.2,426.0 225.8,436.0 230.2,442.0 234.2,454.0 238.2,468.0 242.2,470.0 262.3,469.0 266.3,476.0 270.3,476.0 278.3,469.0 290.3,466.0 292.3,458.0 291.3,450.0 288.3,439.0 291.3,430.0 290.3,420.0 288.3,410.0 294.4,402.0 304.4,404.0 310.4,396.0 308.4,389.0 312.0,387.0 313.3,380.0 311.3,372.0 304.3,370.0 294.2,366.0 288.2,360.0 286.2,353.0 292.2,349.0 291.2,340.0 292.2,328.0 298.2,324.0 296.2,316.0 294.2,304.0 293.2,296.0 296.2,287.0 299.2,280.0 302.3,275.0 324.3,273.0 331.3,270.0" fill="#8dc5d0" stroke="#8dc5d0" stroke-width="1"/>
<polygon points="312.0,387.0 314.4,386.0 320.4,398.0 326.4,401.7 340.5,397.0 347.5,391.0 350.5,382.0 358.5,389.0 370.5,387.0 384.6,385.0 390.0,384.0 384.0,388.0 386.0,399.0 391.0,417.0 400.0,421.0 412.0,423.0 413.0,429.0 407.0,437.0 406.0,449.0 401.0,457.0 416.0,460.0 427.0,463.0 430.0,473.0 438.0,482.0 450.0,480.0 466.0,473.0 468.0,481.0 456.0,490.0 449.5,504.0 434.6,510.7 430.0,521.0 413.0,528.0 411.0,534.0 396.0,538.0 394.0,546.0 381.0,546.0 364.0,548.0 358.5,551.0 350.5,546.0 338.5,540.0 332.4,540.0 329.4,548.0 323.4,554.0 318.0,558.0 314.4,550.0 312.4,544.0 308.4,536.0 306.4,530.0 308.4,528.0 309.4,518.0 310.4,506.0 301.4,503.0 299.4,498.0 303.4,495.0 304.4,488.0 310.4,478.0 320.4,474.0 321.4,470.0 316.4,460.0 308.4,450.0 303.4,440.0 302.4,434.0 314.4,434.0 316.4,429.0 300.4,426.0 297.4,420.0 299.4,413.0 304.4,404.0 310.4,396.0 308.4,389.0" fill="#a6d4d5" stroke="#a6d4d5" stroke-width="1"/>
<polygon points="200.1,386.0 204.1,390.0 216.2,390.0 227.2,395.0 223.2,410.0 223.2,426.0 225.8,436.0 225.2,450.0 227.2,464.0 226.2,478.0 225.2,490.0 226.2,506.0 220.2,514.0 216.2,510.0 212.1,504.0 208.1,510.0 201.1,507.0 193.1,502.0 192.1,496.0 180.1,494.0 175.1,482.0 177.1,470.0 175.1,464.0 178.1,459.0 189.1,458.0 193.1,446.0 192.1,428.0 199.1,423.0 201.1,410.0 202.1,396.0" fill="#c2e3dc" stroke="#c2e3dc" stroke-width="1"/>
<polygon points="165.0,484.0 170.0,486.0 175.0,494.0 180.1,494.0 192.1,496.0 193.1,502.0 201.1,507.0 208.1,510.0 212.1,504.0 216.2,510.0 220.2,514.0 224.2,522.0 226.2,530.0 230.2,540.0 236.2,556.0 242.2,570.0 248.2,577.0 247.2,583.0 249.2,590.0 254.2,598.0 252.3,610.0 250.2,622.0 246.2,632.0 244.2,633.0 241.2,624.0 238.2,610.0 236.2,600.0 231.2,588.0 226.2,578.0 222.0,572.0 216.0,562.0 206.0,556.0 198.0,546.0 190.0,536.0 180.0,522.0 170.0,510.0 162.0,500.0 160.0,492.0" fill="#a4d3d4" stroke="#a4d3d4" stroke-width="1"/>
<polygon points="225.8,436.0 230.2,442.0 234.2,454.0 238.2,468.0 242.2,470.0 262.3,469.0 266.3,476.0 270.3,476.0 266.3,488.0 253.2,493.0 252.3,500.0 258.3,508.0 270.3,511.0 278.3,510.0 283.3,522.0 284.3,530.0 283.3,540.0 282.3,550.0 284.3,560.0 278.3,567.0 268.3,570.0 258.3,579.0 248.2,577.0 242.2,570.0 236.2,556.0 230.2,540.0 226.2,530.0 224.2,522.0 220.2,514.0 226.2,506.0 225.2,490.0 226.2,478.0 227.2,464.0 225.2,450.0" fill="#6fb3c8" stroke="#6fb3c8" stroke-width="1"/>
<polygon points="294.4,402.0 304.4,404.0 299.4,413.0 297.4,420.0 300.4,426.0 316.4,429.0 314.4,434.0 302.4,434.0 303.4,440.0 308.4,450.0 316.4,460.0 321.4,470.0 320.4,474.0 310.4,478.0 304.4,488.0 303.4,495.0 299.4,498.0 301.4,503.0 310.4,506.0 309.4,518.0 308.4,528.0 306.4,530.0 290.3,528.0 284.3,530.0 283.3,522.0 278.3,510.0 270.3,511.0 258.3,508.0 252.3,500.0 253.2,493.0 266.3,488.0 270.3,476.0 278.3,469.0 290.3,466.0 292.3,458.0 291.3,450.0 288.3,439.0 291.3,430.0 290.3,420.0 288.3,410.0" fill="#61a7c1" stroke="#61a7c1" stroke-width="1"/>
<polygon points="284.3,530.0 290.3,528.0 306.4,530.0 308.4,536.0 312.4,544.0 314.4,550.0 312.4,556.0 306.4,558.0 290.3,558.0 284.3,560.0 282.3,550.0 283.3,540.0" fill="#b8dfdb" stroke="#b8dfdb" stroke-width="1"/>
<polygon points="332.4,539.0 338.5,541.0 345.5,547.0 354.5,552.0 355.5,560.0 352.5,570.0 350.5,578.0 351.5,588.0 342.5,591.0 336.4,588.0 330.4,578.0 326.4,570.0 321.4,562.0 323.4,554.0 329.4,548.0 331.4,542.0" fill="#c4e6de" stroke="#c4e6de" stroke-width="1"/>
<polygon points="314.4,550.0 318.0,558.0 321.4,562.0 326.4,570.0 330.4,578.0 336.4,588.0 342.5,591.0 345.5,600.0 350.5,614.0 358.5,626.0 366.5,638.0 374.5,648.0 378.5,658.0 382.6,668.0 388.6,668.0 391.6,672.0 389.6,678.0 382.6,682.0 380.6,690.0 380.3,704.0 375.3,707.0 370.3,710.0 367.3,712.0 362.3,706.0 358.5,694.0 355.5,686.0 354.5,680.0 362.5,678.0 359.5,670.0 352.5,668.0 348.5,666.0 345.5,658.0 342.5,650.0 340.5,642.0 341.5,630.0 338.5,623.0 333.4,626.0 330.4,616.0 331.4,605.0 327.4,596.0 324.4,588.0 317.4,588.0 314.4,578.0 310.4,566.0 306.4,558.0 312.4,556.0" fill="#c0e2db" stroke="#c0e2db" stroke-width="1"/>
<polygon points="322.4,626.0 326.4,628.0 333.4,626.0 338.5,623.0 341.5,630.0 340.5,642.0 342.5,650.0 345.5,658.0 348.5,666.0 352.5,668.0 359.5,670.0 362.5,678.0 354.5,680.0 355.5,686.0 358.5,694.0 362.3,706.0 367.3,712.0 368.3,720.0 356.3,716.0 354.2,718.0 352.5,708.0 351.5,704.0 350.5,696.0 347.5,688.0 345.5,678.0 342.5,670.0 338.5,662.0 334.4,654.0 330.4,644.0 327.4,646.0 324.4,638.0" fill="#b6ded9" stroke="#b6ded9" stroke-width="1"/>
<polygon points="356.3,716.0 368.3,720.0 370.3,726.0 376.3,736.0 386.3,746.0 393.3,752.0 398.4,760.0 400.4,770.0 401.4,780.0 400.5,789.0 407.4,801.5 412.0,815.0 414.3,824.5 417.4,832.0 412.8,839.0 407.4,847.5 401.3,858.0 395.2,864.0 388.3,871.0 388.3,878.0 383.6,889.0 379.0,898.0 376.7,894.0 377.5,886.0 376.7,872.0 379.8,867.5 383.6,861.0 386.0,853.7 388.3,844.5 390.6,833.7 388.3,824.5 386.7,815.0 385.2,806.0 383.6,797.0 381.3,790.0 378.3,780.0 374.3,770.0 370.3,762.0 366.3,766.0 363.3,756.0 362.3,746.0 359.3,736.0 356.3,726.0 354.2,718.0" fill="#aad7d3" stroke="#aad7d3" stroke-width="1"/>
<polygon points="254.2,598.0 262.3,597.0 268.3,604.0 271.3,614.0 274.3,623.0 282.3,629.0 279.3,632.0 280.3,638.0 284.3,650.0 287.3,662.0 286.3,670.0 283.3,678.0 278.3,686.0 270.3,694.0 264.3,695.0 258.3,690.0 250.2,690.0 244.2,685.0 236.2,688.0 230.2,682.0 230.2,670.0 234.2,658.0 236.2,648.0 240.2,638.0 246.2,632.0 250.2,622.0 252.3,610.0" fill="#63aac3" stroke="#63aac3" stroke-width="1"/>
<polygon points="294.3,620.0 300.4,632.0 304.4,644.0 308.4,648.0 318.4,646.0 318.4,654.0 314.4,662.0 306.4,666.0 302.4,666.0 299.4,670.0 290.3,674.0 286.3,670.0 287.3,662.0 284.3,650.0 280.3,638.0 279.3,632.0 282.3,629.0 288.3,625.0" fill="#60a6c0" stroke="#60a6c0" stroke-width="1"/>
<polygon points="248.2,577.0 258.3,579.0 268.3,570.0 278.3,567.0 284.3,560.0 290.3,558.0 306.4,558.0 310.4,566.0 314.4,578.0 317.4,588.0 324.4,588.0 327.4,596.0 331.4,605.0 330.4,616.0 333.4,626.0 326.4,628.0 322.4,626.0 321.4,638.0 318.4,646.0 308.4,648.0 304.4,644.0 300.4,632.0 294.3,620.0 288.3,625.0 282.3,629.0 274.3,623.0 271.3,614.0 268.3,604.0 262.3,597.0 254.2,598.0 249.2,590.0 247.2,583.0" fill="#53799f" stroke="#53799f" stroke-width="1"/>
<!--UNDERLABEL-->
<polygon points="347.4,214.4 351.4,217.0 354.4,221.0 360.4,225.0 364.4,230.0 366.4,238.0 370.4,247.0 372.4,254.0 376.4,250.0 384.4,252.5 386.4,260.0 386.9,280.0 387.5,288.0 385.4,300.0 381.4,309.0 383.4,316.0 378.4,320.0 374.4,326.0 366.4,331.0 364.4,337.0 354.4,342.0 350.4,354.0 346.4,360.0 345.4,370.0 349.4,376.0 348.4,382.0 350.5,382.0 347.5,391.0 340.5,397.0 326.4,401.7 320.4,398.0 314.4,386.0 312.0,387.0 313.3,380.0 311.3,372.0 304.3,370.0 294.2,366.0 288.2,360.0 286.2,353.0 292.2,349.0 291.2,340.0 292.2,328.0 298.2,324.0 296.2,316.0 294.2,304.0 293.2,296.0 296.2,287.0 299.2,280.0 302.3,275.0 324.3,273.0 331.3,270.0 325.3,260.0 322.3,253.0 328.3,245.0 337.3,238.0 338.3,230.0 342.7,222.0 343.3,217.0" fill="none" stroke="#5c6a70" stroke-width="1.3"/>
<polygon points="325.3,260.0 314.3,260.5 308.3,262.0 298.2,266.0 288.2,273.0 276.2,280.0 264.2,288.0 260.1,296.0 261.1,308.0 258.1,316.0 255.1,324.0 246.1,336.0 243.1,344.0 247.1,352.0 243.1,364.0 238.1,374.0 233.0,384.0 227.2,396.0 223.2,410.0 223.2,426.0 225.8,436.0 230.2,442.0 234.2,454.0 238.2,468.0 242.2,470.0 262.3,469.0 266.3,476.0 270.3,476.0 278.3,469.0 290.3,466.0 292.3,458.0 291.3,450.0 288.3,439.0 291.3,430.0 290.3,420.0 288.3,410.0 294.4,402.0 304.4,404.0 310.4,396.0 308.4,389.0 312.0,387.0 313.3,380.0 311.3,372.0 304.3,370.0 294.2,366.0 288.2,360.0 286.2,353.0 292.2,349.0 291.2,340.0 292.2,328.0 298.2,324.0 296.2,316.0 294.2,304.0 293.2,296.0 296.2,287.0 299.2,280.0 302.3,275.0 324.3,273.0 331.3,270.0" fill="none" stroke="#5c6a70" stroke-width="1.3"/>
<polygon points="312.0,387.0 314.4,386.0 320.4,398.0 326.4,401.7 340.5,397.0 347.5,391.0 350.5,382.0 358.5,389.0 370.5,387.0 384.6,385.0 390.0,384.0 384.0,388.0 386.0,399.0 391.0,417.0 400.0,421.0 412.0,423.0 413.0,429.0 407.0,437.0 406.0,449.0 401.0,457.0 416.0,460.0 427.0,463.0 430.0,473.0 438.0,482.0 450.0,480.0 466.0,473.0 468.0,481.0 456.0,490.0 449.5,504.0 434.6,510.7 430.0,521.0 413.0,528.0 411.0,534.0 396.0,538.0 394.0,546.0 381.0,546.0 364.0,548.0 358.5,551.0 350.5,546.0 338.5,540.0 332.4,540.0 329.4,548.0 323.4,554.0 318.0,558.0 314.4,550.0 312.4,544.0 308.4,536.0 306.4,530.0 308.4,528.0 309.4,518.0 310.4,506.0 301.4,503.0 299.4,498.0 303.4,495.0 304.4,488.0 310.4,478.0 320.4,474.0 321.4,470.0 316.4,460.0 308.4,450.0 303.4,440.0 302.4,434.0 314.4,434.0 316.4,429.0 300.4,426.0 297.4,420.0 299.4,413.0 304.4,404.0 310.4,396.0 308.4,389.0" fill="none" stroke="#5c6a70" stroke-width="1.3"/>
<polygon points="200.1,386.0 204.1,390.0 216.2,390.0 227.2,395.0 223.2,410.0 223.2,426.0 225.8,436.0 225.2,450.0 227.2,464.0 226.2,478.0 225.2,490.0 226.2,506.0 220.2,514.0 216.2,510.0 212.1,504.0 208.1,510.0 201.1,507.0 193.1,502.0 192.1,496.0 180.1,494.0 175.1,482.0 177.1,470.0 175.1,464.0 178.1,459.0 189.1,458.0 193.1,446.0 192.1,428.0 199.1,423.0 201.1,410.0 202.1,396.0" fill="none" stroke="#5c6a70" stroke-width="1.3"/>
<polygon points="165.0,484.0 170.0,486.0 175.0,494.0 180.1,494.0 192.1,496.0 193.1,502.0 201.1,507.0 208.1,510.0 212.1,504.0 216.2,510.0 220.2,514.0 224.2,522.0 226.2,530.0 230.2,540.0 236.2,556.0 242.2,570.0 248.2,577.0 247.2,583.0 249.2,590.0 254.2,598.0 252.3,610.0 250.2,622.0 246.2,632.0 244.2,633.0 241.2,624.0 238.2,610.0 236.2,600.0 231.2,588.0 226.2,578.0 222.0,572.0 216.0,562.0 206.0,556.0 198.0,546.0 190.0,536.0 180.0,522.0 170.0,510.0 162.0,500.0 160.0,492.0" fill="none" stroke="#5c6a70" stroke-width="1.3"/>
<polygon points="225.8,436.0 230.2,442.0 234.2,454.0 238.2,468.0 242.2,470.0 262.3,469.0 266.3,476.0 270.3,476.0 266.3,488.0 253.2,493.0 252.3,500.0 258.3,508.0 270.3,511.0 278.3,510.0 283.3,522.0 284.3,530.0 283.3,540.0 282.3,550.0 284.3,560.0 278.3,567.0 268.3,570.0 258.3,579.0 248.2,577.0 242.2,570.0 236.2,556.0 230.2,540.0 226.2,530.0 224.2,522.0 220.2,514.0 226.2,506.0 225.2,490.0 226.2,478.0 227.2,464.0 225.2,450.0" fill="none" stroke="#5c6a70" stroke-width="1.3"/>
<polygon points="294.4,402.0 304.4,404.0 299.4,413.0 297.4,420.0 300.4,426.0 316.4,429.0 314.4,434.0 302.4,434.0 303.4,440.0 308.4,450.0 316.4,460.0 321.4,470.0 320.4,474.0 310.4,478.0 304.4,488.0 303.4,495.0 299.4,498.0 301.4,503.0 310.4,506.0 309.4,518.0 308.4,528.0 306.4,530.0 290.3,528.0 284.3,530.0 283.3,522.0 278.3,510.0 270.3,511.0 258.3,508.0 252.3,500.0 253.2,493.0 266.3,488.0 270.3,476.0 278.3,469.0 290.3,466.0 292.3,458.0 291.3,450.0 288.3,439.0 291.3,430.0 290.3,420.0 288.3,410.0" fill="none" stroke="#5c6a70" stroke-width="1.3"/>
<polygon points="284.3,530.0 290.3,528.0 306.4,530.0 308.4,536.0 312.4,544.0 314.4,550.0 312.4,556.0 306.4,558.0 290.3,558.0 284.3,560.0 282.3,550.0 283.3,540.0" fill="none" stroke="#5c6a70" stroke-width="1.3"/>
<polygon points="332.4,539.0 338.5,541.0 345.5,547.0 354.5,552.0 355.5,560.0 352.5,570.0 350.5,578.0 351.5,588.0 342.5,591.0 336.4,588.0 330.4,578.0 326.4,570.0 321.4,562.0 323.4,554.0 329.4,548.0 331.4,542.0" fill="none" stroke="#5c6a70" stroke-width="1.3"/>
<polygon points="314.4,550.0 318.0,558.0 321.4,562.0 326.4,570.0 330.4,578.0 336.4,588.0 342.5,591.0 345.5,600.0 350.5,614.0 358.5,626.0 366.5,638.0 374.5,648.0 378.5,658.0 382.6,668.0 388.6,668.0 391.6,672.0 389.6,678.0 382.6,682.0 380.6,690.0 380.3,704.0 375.3,707.0 370.3,710.0 367.3,712.0 362.3,706.0 358.5,694.0 355.5,686.0 354.5,680.0 362.5,678.0 359.5,670.0 352.5,668.0 348.5,666.0 345.5,658.0 342.5,650.0 340.5,642.0 341.5,630.0 338.5,623.0 333.4,626.0 330.4,616.0 331.4,605.0 327.4,596.0 324.4,588.0 317.4,588.0 314.4,578.0 310.4,566.0 306.4,558.0 312.4,556.0" fill="none" stroke="#5c6a70" stroke-width="1.3"/>
<polygon points="322.4,626.0 326.4,628.0 333.4,626.0 338.5,623.0 341.5,630.0 340.5,642.0 342.5,650.0 345.5,658.0 348.5,666.0 352.5,668.0 359.5,670.0 362.5,678.0 354.5,680.0 355.5,686.0 358.5,694.0 362.3,706.0 367.3,712.0 368.3,720.0 356.3,716.0 354.2,718.0 352.5,708.0 351.5,704.0 350.5,696.0 347.5,688.0 345.5,678.0 342.5,670.0 338.5,662.0 334.4,654.0 330.4,644.0 327.4,646.0 324.4,638.0" fill="none" stroke="#5c6a70" stroke-width="1.3"/>
<polygon points="356.3,716.0 368.3,720.0 370.3,726.0 376.3,736.0 386.3,746.0 393.3,752.0 398.4,760.0 400.4,770.0 401.4,780.0 400.5,789.0 407.4,801.5 412.0,815.0 414.3,824.5 417.4,832.0 412.8,839.0 407.4,847.5 401.3,858.0 395.2,864.0 388.3,871.0 388.3,878.0 383.6,889.0 379.0,898.0 376.7,894.0 377.5,886.0 376.7,872.0 379.8,867.5 383.6,861.0 386.0,853.7 388.3,844.5 390.6,833.7 388.3,824.5 386.7,815.0 385.2,806.0 383.6,797.0 381.3,790.0 378.3,780.0 374.3,770.0 370.3,762.0 366.3,766.0 363.3,756.0 362.3,746.0 359.3,736.0 356.3,726.0 354.2,718.0" fill="none" stroke="#5c6a70" stroke-width="1.3"/>
<polygon points="254.2,598.0 262.3,597.0 268.3,604.0 271.3,614.0 274.3,623.0 282.3,629.0 279.3,632.0 280.3,638.0 284.3,650.0 287.3,662.0 286.3,670.0 283.3,678.0 278.3,686.0 270.3,694.0 264.3,695.0 258.3,690.0 250.2,690.0 244.2,685.0 236.2,688.0 230.2,682.0 230.2,670.0 234.2,658.0 236.2,648.0 240.2,638.0 246.2,632.0 250.2,622.0 252.3,610.0" fill="none" stroke="#5c6a70" stroke-width="1.3"/>
<polygon points="294.3,620.0 300.4,632.0 304.4,644.0 308.4,648.0 318.4,646.0 318.4,654.0 314.4,662.0 306.4,666.0 302.4,666.0 299.4,670.0 290.3,674.0 286.3,670.0 287.3,662.0 284.3,650.0 280.3,638.0 279.3,632.0 282.3,629.0 288.3,625.0" fill="none" stroke="#5c6a70" stroke-width="1.3"/>
<polygon points="248.2,577.0 258.3,579.0 268.3,570.0 278.3,567.0 284.3,560.0 290.3,558.0 306.4,558.0 310.4,566.0 314.4,578.0 317.4,588.0 324.4,588.0 327.4,596.0 331.4,605.0 330.4,616.0 333.4,626.0 326.4,628.0 322.4,626.0 321.4,638.0 318.4,646.0 308.4,648.0 304.4,644.0 300.4,632.0 294.3,620.0 288.3,625.0 282.3,629.0 274.3,623.0 271.3,614.0 268.3,604.0 262.3,597.0 254.2,598.0 249.2,590.0 247.2,583.0" fill="none" stroke="#5c6a70" stroke-width="1.3"/>
</g>
<polygon points="370.6,786.0 370.3,787.8 369.8,789.6 369.3,787.7 368.8,786.0 369.2,783.8 369.8,783.6 370.5,783.6" fill="#5f6b70" stroke="#5f6b70" stroke-width="0.6"/>
<polygon points="356.1,797.7 356.1,798.5 355.3,798.5 354.7,798.3 354.2,797.7 354.3,796.7 355.3,796.8 356.0,797.0" fill="#5f6b70" stroke="#5f6b70" stroke-width="0.6"/>
<polygon points="368.3,793.8 368.2,794.5 367.5,794.6 367.0,794.3 366.5,793.8 367.1,793.4 367.5,792.9 368.0,793.3" fill="#5f6b70" stroke="#5f6b70" stroke-width="0.6"/>
<polygon points="373.0,803.0 372.7,804.3 372.0,805.2 371.0,805.1 371.0,803.0 371.1,801.2 372.0,800.3 372.8,801.4" fill="#5f6b70" stroke="#5f6b70" stroke-width="0.6"/>
<polygon points="355.4,805.0 354.9,805.9 354.5,806.2 354.0,806.0 353.5,805.0 353.9,803.8 354.5,803.5 355.1,803.7" fill="#5f6b70" stroke="#5f6b70" stroke-width="0.6"/>
<polygon points="363.0,811.0 362.3,812.5 361.0,813.9 359.3,813.0 359.2,811.0 359.5,809.2 361.0,808.5 362.8,808.8" fill="#5f6b70" stroke="#5f6b70" stroke-width="0.6"/>
<polygon points="367.7,816.0 366.7,817.6 365.5,819.5 364.5,817.4 363.7,816.0 363.9,813.8 365.5,813.9 366.8,814.1" fill="#5f6b70" stroke="#5f6b70" stroke-width="0.6"/>
<polygon points="351.3,822.0 351.4,823.0 350.7,823.4 350.1,822.9 349.6,822.0 350.2,821.2 350.7,820.6 351.3,821.1" fill="#5f6b70" stroke="#5f6b70" stroke-width="0.6"/>
<polygon points="350.3,830.0 349.8,830.7 349.0,831.2 347.9,830.9 347.8,830.0 348.0,829.3 349.0,829.3 350.0,829.2" fill="#5f6b70" stroke="#5f6b70" stroke-width="0.6"/>
<polygon points="343.9,833.0 343.6,833.7 342.2,833.9 341.3,833.5 340.8,833.0 341.0,832.4 342.2,832.5 343.2,832.5" fill="#5f6b70" stroke="#5f6b70" stroke-width="0.6"/>
<polygon points="362.4,834.0 362.1,835.6 361.4,836.2 360.4,836.5 360.5,834.0 360.7,832.2 361.4,831.2 362.5,831.3" fill="#5f6b70" stroke="#5f6b70" stroke-width="0.6"/>
<polygon points="370.1,841.4 370.0,844.3 369.0,845.8 367.7,845.2 367.2,841.4 367.7,837.7 369.0,837.7 370.0,838.5" fill="#5f6b70" stroke="#5f6b70" stroke-width="0.6"/>
<polygon points="379.0,846.0 379.0,846.7 378.3,847.0 377.9,846.4 377.7,846.0 377.9,845.6 378.3,845.4 378.8,845.5" fill="#5f6b70" stroke="#5f6b70" stroke-width="0.6"/>
<polygon points="371.4,859.8 371.1,860.3 370.6,860.3 370.1,860.3 369.9,859.8 370.0,859.2 370.6,858.8 371.2,859.2" fill="#5f6b70" stroke="#5f6b70" stroke-width="0.6"/>
<polygon points="382.3,861.4 381.7,863.7 379.8,864.8 378.5,862.9 376.7,861.4 377.7,858.9 379.8,857.6 381.9,858.8" fill="#5f6b70" stroke="#5f6b70" stroke-width="0.6"/>
<polygon points="368.7,875.2 368.3,877.5 367.5,877.8 366.6,877.8 366.6,875.2 366.9,873.4 367.5,872.4 368.2,873.3" fill="#5f6b70" stroke="#5f6b70" stroke-width="0.6"/>
<polygon points="359.8,878.2 359.2,879.5 358.3,880.0 357.4,879.7 357.0,878.2 357.2,876.5 358.3,876.3 359.8,875.9" fill="#5f6b70" stroke="#5f6b70" stroke-width="0.6"/>
<polygon points="369.7,893.6 368.6,895.5 367.5,896.5 366.2,895.8 365.6,893.6 366.4,891.8 367.5,889.4 369.4,890.4" fill="#5f6b70" stroke="#5f6b70" stroke-width="0.6"/>
<polygon points="363.4,902.0 363.1,902.9 362.2,902.9 361.5,902.7 361.1,902.0 361.5,901.3 362.2,900.5 362.9,901.3" fill="#5f6b70" stroke="#5f6b70" stroke-width="0.6"/>
<polygon points="359.6,889.7 359.8,890.5 359.0,890.6 358.5,890.2 358.1,889.7 358.6,889.3 359.0,888.8 359.8,888.9" fill="#5f6b70" stroke="#5f6b70" stroke-width="0.6"/>
<polygon points="355.1,744.0 354.8,747.8 354.2,748.0 353.7,747.1 353.6,744.0 353.6,740.1 354.2,739.2 354.8,740.0" fill="#5f6b70" stroke="#5f6b70" stroke-width="0.6"/>
<polygon points="358.0,726.0 357.7,726.9 357.3,727.8 356.6,727.4 356.4,726.0 356.7,724.7 357.3,724.2 357.9,724.8" fill="#5f6b70" stroke="#5f6b70" stroke-width="0.6"/>
<polygon points="358.0,758.0 357.9,759.1 357.3,759.4 356.9,758.8 356.7,758.0 356.8,757.1 357.3,756.7 358.0,756.8" fill="#5f6b70" stroke="#5f6b70" stroke-width="0.6"/>
<polygon points="371.5,789.0 370.9,791.9 370.3,794.5 369.4,793.0 369.1,789.0 369.7,786.2 370.3,785.5 370.9,786.5" fill="#5f6b70" stroke="#5f6b70" stroke-width="0.6"/>
<polygon points="356.0,798.0 355.8,798.7 355.3,799.2 354.5,799.0 354.3,798.0 354.7,797.2 355.3,796.7 356.0,797.0" fill="#5f6b70" stroke="#5f6b70" stroke-width="0.6"/>
<polygon points="373.6,806.0 373.6,808.7 372.3,810.3 370.9,808.8 370.3,806.0 371.1,803.6 372.3,803.3 373.7,803.1" fill="#5f6b70" stroke="#5f6b70" stroke-width="0.6"/>
<polygon points="363.0,814.0 362.9,816.1 361.3,817.2 360.0,815.6 359.5,814.0 359.6,811.8 361.3,811.2 362.4,812.6" fill="#5f6b70" stroke="#5f6b70" stroke-width="0.6"/>
<polygon points="366.7,862.0 366.1,862.6 364.5,863.4 362.1,863.0 362.3,862.0 362.1,861.0 364.5,860.5 366.7,861.1" fill="#5f6b70" stroke="#5f6b70" stroke-width="0.6"/>
<polygon points="362.9,868.0 362.7,870.1 362.0,870.2 361.5,869.4 360.8,868.0 361.3,865.8 362.0,865.1 362.9,865.4" fill="#5f6b70" stroke="#5f6b70" stroke-width="0.6"/>
<polygon points="368.0,872.0 367.8,872.8 366.0,873.1 364.8,872.5 364.2,872.0 364.7,871.4 366.0,871.2 367.6,871.3" fill="#5f6b70" stroke="#5f6b70" stroke-width="0.6"/>
<polygon points="375.1,814.0 374.9,815.3 374.0,815.5 372.8,815.7 372.8,814.0 373.1,812.7 374.0,812.0 375.2,812.3" fill="#5f6b70" stroke="#5f6b70" stroke-width="0.6"/>
<polygon points="372.1,826.0 372.0,827.5 371.0,827.7 370.2,827.2 369.8,826.0 370.4,825.2 371.0,824.4 371.6,825.0" fill="#5f6b70" stroke="#5f6b70" stroke-width="0.6"/>
<polygon points="366.7,848.0 366.8,849.3 366.0,849.2 365.3,849.1 364.9,848.0 365.3,846.9 366.0,846.6 366.7,846.9" fill="#5f6b70" stroke="#5f6b70" stroke-width="0.6"/>
<polygon points="374.0,852.0 373.8,853.7 373.0,853.6 372.3,853.5 372.2,852.0 372.4,850.7 373.0,849.6 373.7,850.5" fill="#5f6b70" stroke="#5f6b70" stroke-width="0.6"/>
<polygon points="360.8,850.0 360.6,850.6 360.0,851.0 359.5,850.5 359.2,850.0 359.5,849.5 360.0,849.2 360.6,849.4" fill="#5f6b70" stroke="#5f6b70" stroke-width="0.6"/>
<polygon points="352.6,812.0 352.5,812.5 352.0,812.7 351.4,812.6 351.3,812.0 351.4,811.4 352.0,811.1 352.4,811.6" fill="#5f6b70" stroke="#5f6b70" stroke-width="0.6"/>
<ellipse cx="209" cy="723" rx="0.8" ry="1.6" fill="#5f6b70"/>
<ellipse cx="201" cy="751" rx="0.8" ry="1.6" fill="#5f6b70"/>
<ellipse cx="209.5" cy="726" rx="0.8" ry="1.6" fill="#5f6b70"/>
<polygon points="372,800 378,802 381,808 380,816 376,820 373,812 371,806" fill="#aad7d3" stroke="#5f6b70" stroke-width="1.1" stroke-linejoin="round"/>
<polygon points="380,822 385,826 386,836 383,846 379,840 378,830" fill="#aad7d3" stroke="#5f6b70" stroke-width="1.1" stroke-linejoin="round"/>
<polygon points="374,838 378,842 377,852 373,848" fill="#aad7d3" stroke="#5f6b70" stroke-width="1.1" stroke-linejoin="round"/>
<polygon points="376,858 383,856 385,862 380,868 376,866" fill="#aad7d3" stroke="#5f6b70" stroke-width="1.1" stroke-linejoin="round"/>
<polygon points="363,757 367,760 369,768 366,772 364,766" fill="#aad7d3" stroke="#5f6b70" stroke-width="1.1" stroke-linejoin="round"/>
<polyline points="360,806 363,809 361,813 365,815 363,820 367,822" fill="none" stroke="#5f6b70" stroke-width="1.6" stroke-linejoin="round" stroke-linecap="round"/>
<polyline points="366,804 369,808 367,812 371,814" fill="none" stroke="#5f6b70" stroke-width="1.6" stroke-linejoin="round" stroke-linecap="round"/>
<polyline points="358,812 361,816 359,820 362,824" fill="none" stroke="#5f6b70" stroke-width="1.6" stroke-linejoin="round" stroke-linecap="round"/>
<polyline points="364,826 367,830 365,834 369,838 367,842" fill="none" stroke="#5f6b70" stroke-width="1.6" stroke-linejoin="round" stroke-linecap="round"/>
<polyline points="371,828 374,832 372,838 376,842" fill="none" stroke="#5f6b70" stroke-width="1.6" stroke-linejoin="round" stroke-linecap="round"/>
<polyline points="359,830 362,834 360,838" fill="none" stroke="#5f6b70" stroke-width="1.6" stroke-linejoin="round" stroke-linecap="round"/>
<polyline points="378,806 381,812 379,818" fill="none" stroke="#5f6b70" stroke-width="1.6" stroke-linejoin="round" stroke-linecap="round"/>
<polyline points="382,820 385,828 383,836" fill="none" stroke="#5f6b70" stroke-width="1.6" stroke-linejoin="round" stroke-linecap="round"/>
<polyline points="368,846 371,850 369,856" fill="none" stroke="#5f6b70" stroke-width="1.6" stroke-linejoin="round" stroke-linecap="round"/>
<polyline points="375,850 378,856 376,862" fill="none" stroke="#5f6b70" stroke-width="1.6" stroke-linejoin="round" stroke-linecap="round"/>
<polyline points="362,858 366,861 369,866 366,870 362,868" fill="none" stroke="#5f6b70" stroke-width="1.6" stroke-linejoin="round" stroke-linecap="round"/>
<polyline points="372,866 376,870 374,876" fill="none" stroke="#5f6b70" stroke-width="1.6" stroke-linejoin="round" stroke-linecap="round"/>
<polyline points="364,874 367,880 365,886" fill="none" stroke="#5f6b70" stroke-width="1.6" stroke-linejoin="round" stroke-linecap="round"/>
<polyline points="368,888 371,893 369,898 366,896" fill="none" stroke="#5f6b70" stroke-width="1.6" stroke-linejoin="round" stroke-linecap="round"/>
<polyline points="374,880 376,886 375,892" fill="none" stroke="#5f6b70" stroke-width="1.6" stroke-linejoin="round" stroke-linecap="round"/>
<polyline points="357,876 360,880 358,885" fill="none" stroke="#5f6b70" stroke-width="1.6" stroke-linejoin="round" stroke-linecap="round"/>
<polyline points="369,784 370,790 369,796" fill="none" stroke="#5f6b70" stroke-width="1.6" stroke-linejoin="round" stroke-linecap="round"/>
<polyline points="372,798 374,804" fill="none" stroke="#5f6b70" stroke-width="1.6" stroke-linejoin="round" stroke-linecap="round"/>
<polyline points="354,738 355,744 354,750" fill="none" stroke="#5f6b70" stroke-width="1.6" stroke-linejoin="round" stroke-linecap="round"/>
<polyline points="365,758 368,764 367,770" fill="none" stroke="#5f6b70" stroke-width="1.6" stroke-linejoin="round" stroke-linecap="round"/>
<polyline points="181,515 184,521 182,524 187,527 185,531 190,533 188,538 193,539 192,544 197,545" fill="none" stroke="#5f6b70" stroke-width="1.5" stroke-linejoin="round"/>
<polyline points="186,517 189,523 192,521 193,528 197,530 196,536 200,538 201,544 205,546" fill="none" stroke="#5f6b70" stroke-width="1.5" stroke-linejoin="round"/>
<polyline points="196,538 199,546 203,552 206,550 208,556 212,558" fill="none" stroke="#5f6b70" stroke-width="1.5" stroke-linejoin="round"/>
<polyline points="200,548 204,556 209,561 213,566 217,570" fill="none" stroke="#5f6b70" stroke-width="1.5" stroke-linejoin="round"/>
<polyline points="204,552 209,553 214,556 219,562 222,568 220,577 215,573 210,566 205,559 204,552" fill="none" stroke="#5f6b70" stroke-width="1.5" stroke-linejoin="round"/>
<polyline points="206,579 212,579 214,585 210,587 206,583 206,579" fill="none" stroke="#5f6b70" stroke-width="1.5" stroke-linejoin="round"/>
<polyline points="190,528 195,534 199,541" fill="none" stroke="#5f6b70" stroke-width="1.5" stroke-linejoin="round"/>
<polyline points="184,519 188,528 193,534" fill="none" stroke="#5f6b70" stroke-width="1.5" stroke-linejoin="round"/>
<polyline points="207,545 211,551 216,553" fill="none" stroke="#5f6b70" stroke-width="1.5" stroke-linejoin="round"/>
<polyline points="209,565 212,572 216,576" fill="none" stroke="#5f6b70" stroke-width="1.5" stroke-linejoin="round"/>
<polygon points="204,552 209,553 214,556 219,562 222,568 220,577 215,573 210,566 205,559" fill="#a4d3d4" stroke="#5f6b70" stroke-width="1.1"/>
<polygon points="206,579 212,579 214,585 210,587 206,583" fill="#a4d3d4" stroke="#5f6b70" stroke-width="1.1"/>
<polyline points="239,686 243,678 241,675 246,670" fill="none" stroke="#5f6b70" stroke-width="1.7" stroke-linejoin="round"/>
<polyline points="243,690 247,681 246,676 251,670 250,667" fill="none" stroke="#5f6b70" stroke-width="1.7" stroke-linejoin="round"/>
<polyline points="248,691 252,682 251,677 256,671" fill="none" stroke="#5f6b70" stroke-width="1.7" stroke-linejoin="round"/>
<polyline points="253,692 257,683 256,678 261,673 262,669" fill="none" stroke="#5f6b70" stroke-width="1.7" stroke-linejoin="round"/>
<polyline points="258,693 262,685 261,680 266,676" fill="none" stroke="#5f6b70" stroke-width="1.7" stroke-linejoin="round"/>
<polyline points="263,695 266,688 265,683 270,679" fill="none" stroke="#5f6b70" stroke-width="1.7" stroke-linejoin="round"/>
<polyline points="268,694 271,688 270,684" fill="none" stroke="#5f6b70" stroke-width="1.7" stroke-linejoin="round"/>
<polyline points="235,681 238,674 241,672" fill="none" stroke="#5f6b70" stroke-width="1.7" stroke-linejoin="round"/>
<polyline points="281,676 285,672 288,673" fill="none" stroke="#5f6b70" stroke-width="1.7" stroke-linejoin="round"/>
<polyline points="284,680 288,676" fill="none" stroke="#5f6b70" stroke-width="1.7" stroke-linejoin="round"/>
<polyline points="337,668 341,672 343,679 346,684" fill="none" stroke="#5f6b70" stroke-width="1.0"/>
<g font-family="Liberation Sans, sans-serif">
<text x="253.00" y="469.00" font-size="19.00" textLength="80.35" lengthAdjust="spacingAndGlyphs" opacity="0.33" fill="#5a8794" >Myanmar</text>
<text x="322.30" y="337.30" font-size="12.50" textLength="13.73" lengthAdjust="spacingAndGlyphs" fill="#161616" >15</text>
<text x="268.70" y="388.00" font-size="12.50" textLength="14.63" lengthAdjust="spacingAndGlyphs" fill="#161616" >82</text>
<text x="203.70" y="463.20" font-size="12.50" textLength="6.01" lengthAdjust="spacingAndGlyphs" fill="#161616" >5</text>
<text x="286.30" y="477.70" font-size="13.00" textLength="22.08" lengthAdjust="spacingAndGlyphs" fill="#161616" >177</text>
<text x="348.50" y="481.30" font-size="14.50" textLength="17.04" lengthAdjust="spacingAndGlyphs" fill="#161616" >49</text>
<text x="243.80" y="522.40" font-size="12.50" textLength="20.08" lengthAdjust="spacingAndGlyphs" fill="#161616" >133</text>
<text x="291.30" y="549.40" font-size="12.50" textLength="14.13" lengthAdjust="spacingAndGlyphs" fill="#161616" >27</text>
<text x="336.80" y="567.50" font-size="12.00" textLength="4.41" lengthAdjust="spacingAndGlyphs" fill="#161616" >1</text>
<text x="202.50" y="560.00" font-size="12.00" textLength="14.73" lengthAdjust="spacingAndGlyphs" fill="#161616" >49</text>
<text x="284.70" y="607.80" font-size="10.00" textLength="17.68" lengthAdjust="spacingAndGlyphs" font-weight="bold" fill="#161616" >288</text>
<text x="280.30" y="660.30" font-size="14.50" textLength="25.08" lengthAdjust="spacingAndGlyphs" fill="#161616" >183</text>
<text x="249.20" y="668.70" font-size="10.00" textLength="16.69" lengthAdjust="spacingAndGlyphs" font-weight="bold" fill="#161616" >166</text>
<text x="342.50" y="639.30" font-size="12.00" textLength="10.68" lengthAdjust="spacingAndGlyphs" fill="#161616" >11</text>
<text x="339.00" y="675.30" font-size="12.00" textLength="13.93" lengthAdjust="spacingAndGlyphs" fill="#161616" >28</text>
<text x="362.60" y="833.40" font-size="14.00" textLength="16.43" lengthAdjust="spacingAndGlyphs" fill="#161616" >29</text>
<text x="64.00" y="254.00" font-size="17.50" textLength="62.99" lengthAdjust="spacingAndGlyphs" fill="none" stroke="#f3f3f3" stroke-width="3" stroke-linejoin="round" >Bhutan</text><text x="64.00" y="254.00" font-size="17.50" textLength="62.99" lengthAdjust="spacingAndGlyphs" fill="#8b8b8b" >Bhutan</text>
<text x="40.80" y="366.60" font-size="18.00" textLength="101.75" lengthAdjust="spacingAndGlyphs" fill="none" stroke="#f3f3f3" stroke-width="3" stroke-linejoin="round" >Bangladesh</text><text x="40.80" y="366.60" font-size="18.00" textLength="101.75" lengthAdjust="spacingAndGlyphs" fill="#8b8b8b" >Bangladesh</text>
<text x="421.50" y="694.30" font-size="18.50" textLength="73.92" lengthAdjust="spacingAndGlyphs" fill="none" stroke="#f3f3f3" stroke-width="3" stroke-linejoin="round" >Thailand</text><text x="421.50" y="694.30" font-size="18.50" textLength="73.92" lengthAdjust="spacingAndGlyphs" fill="#8b8b8b" >Thailand</text>
<text x="497.50" y="553.30" font-size="16.50" textLength="37.67" lengthAdjust="spacingAndGlyphs" fill="none" stroke="#f3f3f3" stroke-width="3" stroke-linejoin="round" >Laos</text><text x="497.50" y="553.30" font-size="16.50" textLength="37.67" lengthAdjust="spacingAndGlyphs" fill="#8b8b8b" >Laos</text>
<defs><linearGradient id="lg" x1="0" x2="1" y1="0" y2="0"><stop offset="0" stop-color="#c4e6dd"/><stop offset="0.22" stop-color="#a3d3d3"/><stop offset="0.45" stop-color="#74bac9"/><stop offset="0.62" stop-color="#60a8c0"/><stop offset="0.8" stop-color="#5b93b2"/><stop offset="1" stop-color="#52789f"/></linearGradient></defs>
<rect x="39.5" y="762.5" width="182" height="22" fill="url(#lg)" stroke="#9a9a9a" stroke-width="1"/>
<text x="26.20" y="777.90" font-size="15.50" textLength="7.01" lengthAdjust="spacingAndGlyphs" fill="#555" >1</text>
<text x="227.60" y="777.90" font-size="15.50" textLength="25.08" lengthAdjust="spacingAndGlyphs" fill="#555" >288</text>
<text x="22.60" y="913.80" font-size="14.20" textLength="102.60" lengthAdjust="spacingAndGlyphs" fill="none" stroke="#ffffff" stroke-width="2.5" stroke-linejoin="round" >© 2025 Mapbox</text><text x="22.60" y="913.80" font-size="14.20" textLength="102.60" lengthAdjust="spacingAndGlyphs" fill="#666" >© 2025 Mapbox</text>
<text x="133.00" y="913.80" font-size="14.20" textLength="116.99" lengthAdjust="spacingAndGlyphs" fill="none" stroke="#ffffff" stroke-width="2.5" stroke-linejoin="round" >© OpenStreetMap</text><text x="133.00" y="913.80" font-size="14.20" textLength="116.99" lengthAdjust="spacingAndGlyphs" fill="#666" >© OpenStreetMap</text>
</g>
</svg>
</div>

<div class="band" style="top:217.5px"></div>
<div class="band" style="top:262.5px"></div>
<div class="band" style="top:307.5px"></div>
<div class="band" style="top:352.5px"></div>
<div class="band" style="top:397.5px"></div>
<div class="band" style="top:442.5px"></div>
<div class="band" style="top:487.5px"></div>
<div class="hl" style="top:194px"></div>
<div class="hl" style="top:532px;background:#e3dedc"></div>
<div class="ch" style="right:865.2px;top:178px">Male</div>
<div class="ch" style="right:719.2px;top:178px">Female</div>
<div class="ch" style="right:574.2px;top:178px">Under Aged</div>
<div class="ch" style="right:428.2px;top:178px">Unknown</div>
<div class="ch" style="right:283.2px;top:178px">Total</div>
<div class="rl" style="top:199.5px">Rakhine</div>
<div class="n r" style="right:864.8px;top:198.5px">1,187</div>
<div class="n r" style="right:718.8px;top:198.5px">1</div>
<div class="n r" style="right:427.8px;top:198.5px">2,661</div>
<div class="n r" style="right:282.8px;top:198.5px">3,849</div>
<div class="rl" style="top:222.0px">Mandalay</div>
<div class="n" style="right:864.8px;top:221.0px">1,138</div>
<div class="n" style="right:718.8px;top:221.0px">10</div>
<div class="n" style="right:573.8px;top:221.0px">12</div>
<div class="n" style="right:427.8px;top:221.0px">2,587</div>
<div class="n" style="right:282.8px;top:221.0px">3,747</div>
<div class="rl" style="top:244.5px">Ayeyarwady</div>
<div class="n" style="right:864.8px;top:243.5px">554</div>
<div class="n" style="right:718.8px;top:243.5px">1</div>
<div class="n" style="right:427.8px;top:243.5px">2,661</div>
<div class="n" style="right:282.8px;top:243.5px">3,216</div>
<div class="rl" style="top:267.0px">Bago</div>
<div class="n" style="right:864.8px;top:266.0px">933</div>
<div class="n" style="right:718.8px;top:266.0px">5</div>
<div class="n" style="right:573.8px;top:266.0px">5</div>
<div class="n" style="right:427.8px;top:266.0px">1,833</div>
<div class="n" style="right:282.8px;top:266.0px">2,776</div>
<div class="rl" style="top:289.5px">Yangon</div>
<div class="n" style="right:864.8px;top:288.5px">1,820</div>
<div class="n" style="right:718.8px;top:288.5px">19</div>
<div class="n" style="right:573.8px;top:288.5px">1</div>
<div class="n" style="right:427.8px;top:288.5px">404</div>
<div class="n" style="right:282.8px;top:288.5px">2,244</div>
<div class="rl" style="top:312.0px">Magway</div>
<div class="n" style="right:864.8px;top:311.0px">934</div>
<div class="n" style="right:718.8px;top:311.0px">13</div>
<div class="n" style="right:573.8px;top:311.0px">1</div>
<div class="n" style="right:427.8px;top:311.0px">991</div>
<div class="n" style="right:282.8px;top:311.0px">1,939</div>
<div class="rl" style="top:334.5px">Tanintharyi</div>
<div class="n" style="right:864.8px;top:333.5px">829</div>
<div class="n" style="right:718.8px;top:333.5px">4</div>
<div class="n" style="right:427.8px;top:333.5px">727</div>
<div class="n" style="right:282.8px;top:333.5px">1,560</div>
<div class="rl" style="top:357.0px">Sagaing</div>
<div class="n" style="right:864.8px;top:356.0px">484</div>
<div class="n" style="right:718.8px;top:356.0px">24</div>
<div class="n" style="right:573.8px;top:356.0px">2</div>
<div class="n" style="right:427.8px;top:356.0px">993</div>
<div class="n" style="right:282.8px;top:356.0px">1,503</div>
<div class="rl" style="top:379.5px">Nay Pyi Taw</div>
<div class="n" style="right:864.8px;top:378.5px">282</div>
<div class="n" style="right:573.8px;top:378.5px">7</div>
<div class="n" style="right:427.8px;top:378.5px">482</div>
<div class="n" style="right:282.8px;top:378.5px">771</div>
<div class="rl" style="top:402.0px">Kayin (Karen)</div>
<div class="n" style="right:864.8px;top:401.0px">106</div>
<div class="n" style="right:427.8px;top:401.0px">590</div>
<div class="n" style="right:282.8px;top:401.0px">696</div>
<div class="rl" style="top:424.5px">Mon</div>
<div class="n" style="right:864.8px;top:423.5px">192</div>
<div class="n" style="right:427.8px;top:423.5px">193</div>
<div class="n" style="right:282.8px;top:423.5px">385</div>
<div class="rl" style="top:447.0px">Shan</div>
<div class="n" style="right:864.8px;top:446.0px">28</div>
<div class="n" style="right:718.8px;top:446.0px">1</div>
<div class="n" style="right:427.8px;top:446.0px">280</div>
<div class="n" style="right:282.8px;top:446.0px">309</div>
<div class="rl" style="top:469.5px">Kachin</div>
<div class="n" style="right:864.8px;top:468.5px">107</div>
<div class="n" style="right:718.8px;top:468.5px">1</div>
<div class="n" style="right:427.8px;top:468.5px">116</div>
<div class="n" style="right:282.8px;top:468.5px">224</div>
<div class="rl" style="top:492.0px">Chin</div>
<div class="n" style="right:864.8px;top:491.0px">2</div>
<div class="n" style="right:427.8px;top:491.0px">4</div>
<div class="n" style="right:282.8px;top:491.0px">6</div>
<div class="rl" style="top:514.5px">Kayah (Karenni)</div>
<div class="n" style="right:282.8px;top:513.5px">0</div>

<div class="t" style="left:919.30px;top:568.76px;font-size:18.60px;color:#333;transform:scaleX(1.1028);-webkit-text-stroke:0.25px #333;">Cases by Month</div>
<svg style="position:absolute;left:0;top:0" width="1697" height="938" viewBox="0 0 1697 938"><polyline fill="none" stroke="#4e79a7" stroke-width="3.9" stroke-linejoin="round" stroke-linecap="round" points="645.6,641.1 708.9,616.8 776.8,743.8 842.7,742.3 911.7,752.1 976.0,749.0 1043.4,692.0 1111.3,693.5 1177.2,787.9 1244.6,736.0 1310.5,682.6 1378.6,765.1"/><circle cx="1378.6" cy="765.1" r="3.9" fill="#4e79a7"/></svg>
<div class="t" style="left:571.50px;top:645.50px;font-size:15.00px;color:#777;transform:scaleX(1.1018);">150</div>
<div class="t" style="left:571.50px;top:714.60px;font-size:15.00px;color:#777;transform:scaleX(1.1018);">100</div>
<div class="t" style="left:580.10px;top:781.40px;font-size:15.00px;color:#777;transform:scaleX(1.1411);">50</div>
<div class="t" style="left:589.00px;top:839.30px;font-size:15.00px;color:#777;transform:scaleX(1.2132);">0</div>
<div class="t" style="left:611.30px;top:870.00px;font-size:15.00px;color:#777;transform:scaleX(1.0421);">Feb-2024</div>
<div class="t" style="left:742.30px;top:870.00px;font-size:15.00px;color:#777;transform:scaleX(1.0838);">Apr-2024</div>
<div class="t" style="left:876.30px;top:870.00px;font-size:15.00px;color:#777;transform:scaleX(1.0695);">Jun-2024</div>
<div class="t" style="left:1008.30px;top:870.00px;font-size:15.00px;color:#777;transform:scaleX(1.0288);">Aug-2024</div>
<div class="t" style="left:1142.30px;top:870.00px;font-size:15.00px;color:#777;transform:scaleX(1.0838);">Oct-2024</div>
<div class="t" style="left:1276.30px;top:870.00px;font-size:15.00px;color:#777;transform:scaleX(1.0288);">Dec-2024</div>
<div class="t" style="left:1346.70px;top:774.80px;font-size:15.00px;color:#222;transform:scaleX(0.9790);">68 - Cases</div>

<div class="dd" style="top:33px"><span>(All)</span><i></i></div>
<div class="dd" style="top:172px"><span>(All)</span><i></i></div>

<div class="t" style="left:1505.80px;top:609.09px;font-size:18.20px;color:#000;transform:scaleX(1.1698);-webkit-text-stroke:0.3px #000;">″ Data here are</div>
<div class="t" style="left:1490.90px;top:638.09px;font-size:18.20px;color:#000;transform:scaleX(1.1984);-webkit-text-stroke:0.3px #000;">collected from the</div>
<div class="t" style="left:1517.00px;top:666.59px;font-size:18.20px;color:#000;transform:scaleX(1.1223);-webkit-text-stroke:0.3px #000;">MoHR’s Own</div>
<div class="t" style="left:1528.70px;top:695.59px;font-size:18.20px;color:#000;transform:scaleX(1.1880);-webkit-text-stroke:0.3px #000;">Complaint</div>
<div class="t" style="left:1488.80px;top:724.59px;font-size:18.20px;color:#000;transform:scaleX(1.1464);-webkit-text-stroke:0.3px #000;">mechanism as well</div>
<div class="t" style="left:1508.60px;top:753.29px;font-size:18.20px;color:#000;transform:scaleX(1.1546);-webkit-text-stroke:0.3px #000;">as from Online</div>
<div class="t" style="left:1528.70px;top:782.29px;font-size:18.20px;color:#000;transform:scaleX(1.1973);-webkit-text-stroke:0.3px #000;">sources. ″</div>

</body>
</html>
